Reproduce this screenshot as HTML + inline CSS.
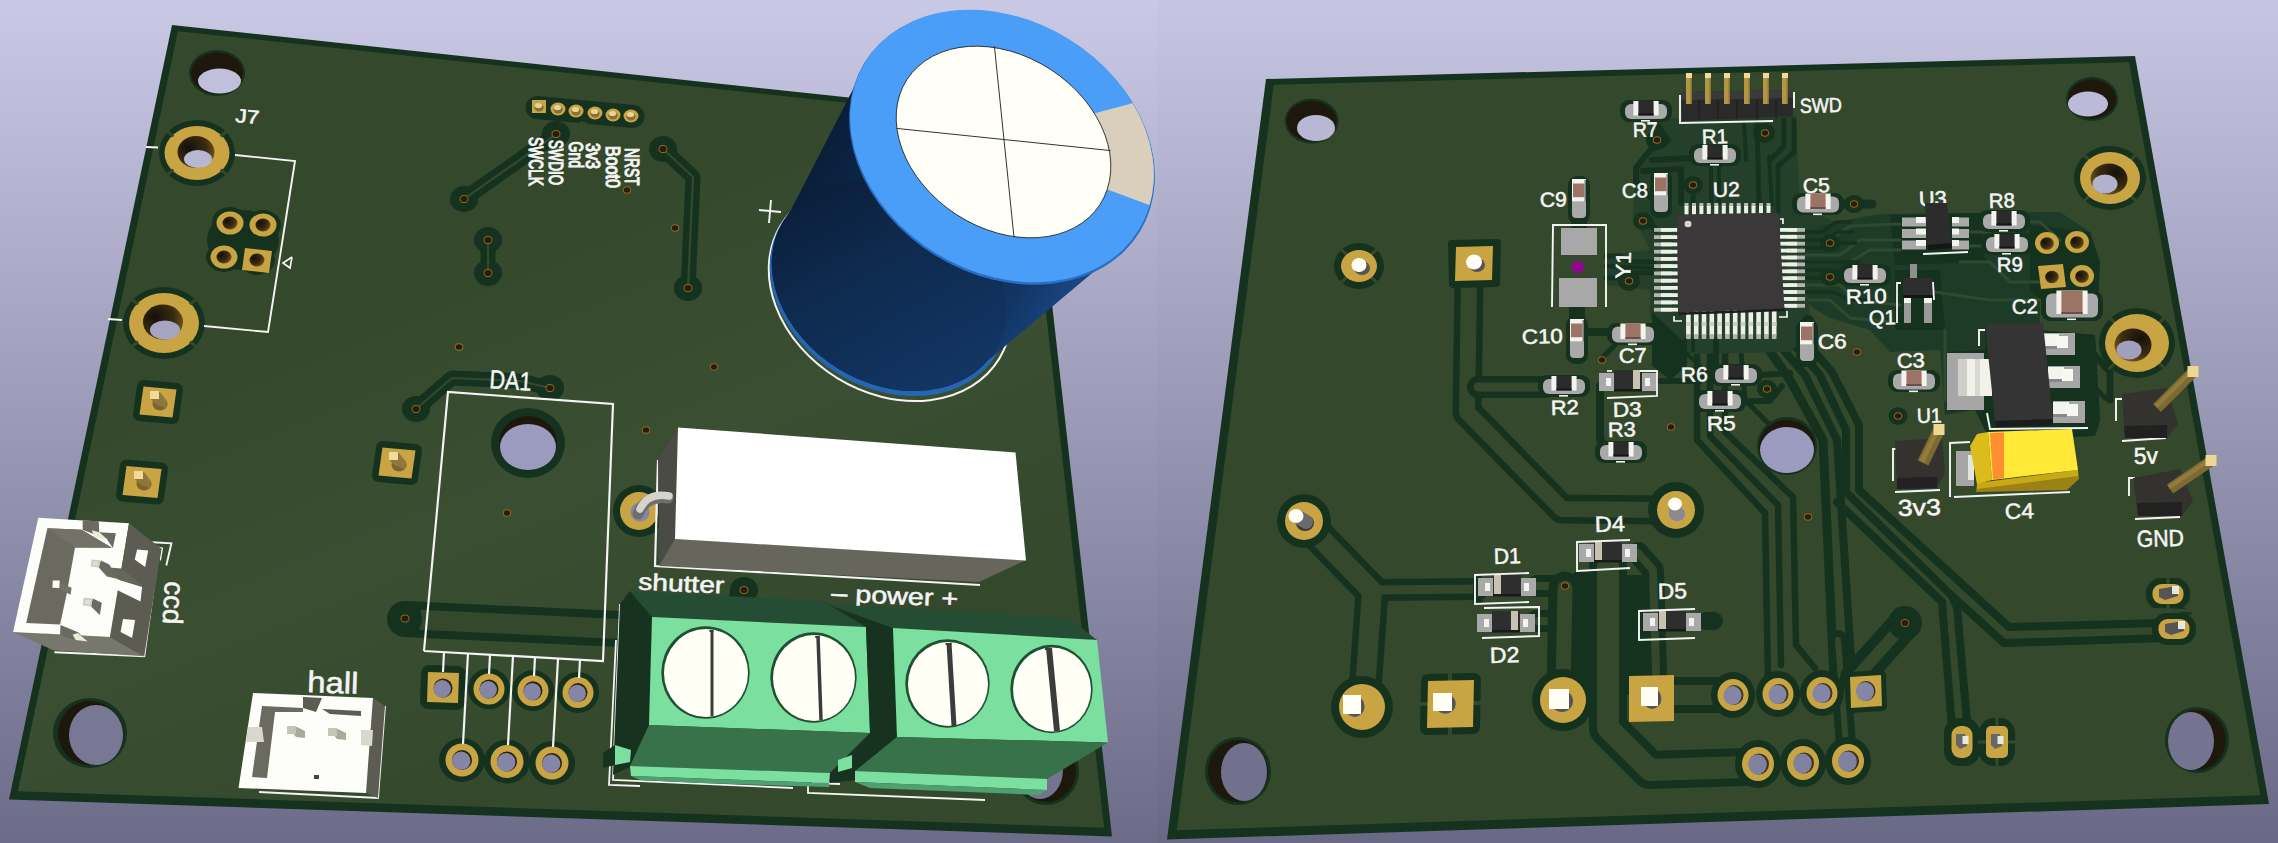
<!DOCTYPE html>
<html><head><meta charset="utf-8"><title>PCB 3D view</title>
<style>html,body{margin:0;padding:0;background:#9999b5;}svg{display:block;font-family:"Liberation Sans",sans-serif;}text{stroke:#f4f4f4;stroke-width:0.55px;}</style>
</head><body>
<svg width="2278" height="843" viewBox="0 0 2278 843">

<defs>
<linearGradient id="bgl" x1="0" y1="0" x2="0" y2="1"><stop offset="0" stop-color="#c9c9e5"/><stop offset="1" stop-color="#6c6c89"/></linearGradient>
<linearGradient id="bgr" x1="0" y1="0" x2="0" y2="1"><stop offset="0" stop-color="#c6c6e3"/><stop offset="1" stop-color="#696986"/></linearGradient>
<clipPath id="clipP1"><rect x="0" y="0" width="1157" height="843"/></clipPath>
<clipPath id="clipP2"><rect x="1157" y="0" width="1121" height="843"/></clipPath>
<radialGradient id="holeg" cx="0.3" cy="0.35" r="0.8"><stop offset="0" stop-color="#15100a"/><stop offset="0.6" stop-color="#3a2c10"/><stop offset="1" stop-color="#7a5c1e"/></radialGradient>
<linearGradient id="capbody" gradientUnits="userSpaceOnUse" x1="790" y1="170" x2="1070" y2="330"><stop offset="0" stop-color="#0a1c36"/><stop offset="0.35" stop-color="#0e2a4e"/><stop offset="0.8" stop-color="#123563"/><stop offset="1" stop-color="#1b4c8c"/></linearGradient>
<linearGradient id="lightL" gradientUnits="userSpaceOnUse" x1="300" y1="300" x2="500" y2="800"><stop offset="0" stop-color="#ffffff" stop-opacity="0"/><stop offset="0.5" stop-color="#ffffff" stop-opacity="0.03"/><stop offset="1" stop-color="#ffffff" stop-opacity="0"/></linearGradient>
<radialGradient id="holeg2" cx="0.7" cy="0.3" r="0.8"><stop offset="0" stop-color="#15100a"/><stop offset="0.6" stop-color="#3a2c10"/><stop offset="1" stop-color="#7a5c1e"/></radialGradient>
</defs>
<rect x="0" y="0" width="1157" height="843" fill="url(#bgl)"/>
<rect x="1157" y="0" width="1121" height="843" fill="url(#bgr)"/>
<clipPath id="clipL"><polygon points="172.0,25.0 1031.0,117.0 1112.0,836.5 9.0,799.5"/></clipPath>
<g clip-path="url(#clipP1)">
<polygon points="172.0,25.0 1031.0,117.0 1112.0,836.5 9.0,799.5" fill="#15321f" />
<polygon points="177.9,31.2 1024.5,121.8 1104.0,827.7 17.9,791.3" fill="#34492c" />
<g clip-path="url(#clipL)">
<polygon points="177.9,31.2 1024.5,121.8 1104.0,827.7 17.9,791.3" fill="url(#lightL)"/>
<polyline points="464.0,199.0 548.0,140.0 556.0,134.0" fill="none" stroke="#15321f" stroke-width="15" stroke-linecap="round" stroke-linejoin="round" />
<ellipse cx="464.0" cy="199.0" rx="14.0" ry="13.0" fill="#15321f" />
<ellipse cx="556.0" cy="134.0" rx="14.0" ry="13.0" fill="#15321f" />
<polyline points="464.0,199.0 548.0,140.0 556.0,134.0" fill="none" stroke="#34492c" stroke-width="2.2" stroke-linecap="round" stroke-linejoin="round" />
<polyline points="488.0,240.0 488.0,273.0" fill="none" stroke="#15321f" stroke-width="15" stroke-linecap="round" stroke-linejoin="round" />
<ellipse cx="488.0" cy="240.0" rx="14.0" ry="13.0" fill="#15321f" />
<ellipse cx="488.0" cy="273.0" rx="14.0" ry="13.0" fill="#15321f" />
<polyline points="488.0,240.0 488.0,273.0" fill="none" stroke="#34492c" stroke-width="2.2" stroke-linecap="round" stroke-linejoin="round" />
<polyline points="663.0,149.0 693.0,177.0 688.0,288.0" fill="none" stroke="#15321f" stroke-width="15" stroke-linecap="round" stroke-linejoin="round" />
<ellipse cx="663.0" cy="149.0" rx="14.0" ry="13.0" fill="#15321f" />
<ellipse cx="688.0" cy="288.0" rx="14.0" ry="13.0" fill="#15321f" />
<polyline points="663.0,149.0 693.0,177.0 688.0,288.0" fill="none" stroke="#34492c" stroke-width="2.2" stroke-linecap="round" stroke-linejoin="round" />
<polyline points="416.0,409.0 452.0,378.0 520.0,381.0 550.0,388.0" fill="none" stroke="#15321f" stroke-width="15" stroke-linecap="round" stroke-linejoin="round" />
<ellipse cx="416.0" cy="409.0" rx="14.0" ry="13.0" fill="#15321f" />
<ellipse cx="550.0" cy="388.0" rx="14.0" ry="13.0" fill="#15321f" />
<polyline points="416.0,409.0 452.0,378.0 520.0,381.0 550.0,388.0" fill="none" stroke="#34492c" stroke-width="2.2" stroke-linecap="round" stroke-linejoin="round" />
<polyline points="405.0,619.0 640.0,630.0" fill="none" stroke="#15321f" stroke-width="36" stroke-linecap="round" stroke-linejoin="round" />
<polyline points="420.0,619.7 640.0,630.0" fill="none" stroke="#34492c" stroke-width="20" stroke-linecap="butt" stroke-linejoin="round" />
<ellipse cx="405.0" cy="618.5" rx="17.0" ry="17.0" fill="#15321f" />
<polyline points="744.0,590.0 735.0,596.0" fill="none" stroke="#15321f" stroke-width="12" stroke-linecap="round" stroke-linejoin="round" />
<ellipse cx="744.0" cy="590.0" rx="14.0" ry="13.0" fill="#15321f" />
</g>
<ellipse cx="464.0" cy="199.0" rx="4.5" ry="4.1" fill="#8a6a22" />
<ellipse cx="464.0" cy="199.0" rx="3.5" ry="3.1" fill="#2a1c08" />
<ellipse cx="556.0" cy="134.0" rx="4.5" ry="4.1" fill="#8a6a22" />
<ellipse cx="556.0" cy="134.0" rx="3.5" ry="3.1" fill="#2a1c08" />
<ellipse cx="488.0" cy="240.0" rx="4.5" ry="4.1" fill="#8a6a22" />
<ellipse cx="488.0" cy="240.0" rx="3.5" ry="3.1" fill="#2a1c08" />
<ellipse cx="488.0" cy="273.0" rx="4.5" ry="4.1" fill="#8a6a22" />
<ellipse cx="488.0" cy="273.0" rx="3.5" ry="3.1" fill="#2a1c08" />
<ellipse cx="663.0" cy="149.0" rx="4.5" ry="4.1" fill="#8a6a22" />
<ellipse cx="663.0" cy="149.0" rx="3.5" ry="3.1" fill="#2a1c08" />
<ellipse cx="688.0" cy="288.0" rx="4.5" ry="4.1" fill="#8a6a22" />
<ellipse cx="688.0" cy="288.0" rx="3.5" ry="3.1" fill="#2a1c08" />
<ellipse cx="416.0" cy="409.0" rx="4.5" ry="4.1" fill="#8a6a22" />
<ellipse cx="416.0" cy="409.0" rx="3.5" ry="3.1" fill="#2a1c08" />
<ellipse cx="550.0" cy="388.0" rx="4.5" ry="4.1" fill="#8a6a22" />
<ellipse cx="550.0" cy="388.0" rx="3.5" ry="3.1" fill="#2a1c08" />
<ellipse cx="405.0" cy="618.5" rx="4.5" ry="4.1" fill="#8a6a22" />
<ellipse cx="405.0" cy="618.5" rx="3.5" ry="3.1" fill="#2a1c08" />
<ellipse cx="744.0" cy="590.0" rx="4.5" ry="4.1" fill="#8a6a22" />
<ellipse cx="744.0" cy="590.0" rx="3.5" ry="3.1" fill="#2a1c08" />
<ellipse cx="627.0" cy="190.0" rx="4.2" ry="3.8" fill="#8a6a22" />
<ellipse cx="627.0" cy="190.0" rx="3.2" ry="2.8" fill="#2a1c08" />
<ellipse cx="675.0" cy="228.0" rx="4.2" ry="3.8" fill="#8a6a22" />
<ellipse cx="675.0" cy="228.0" rx="3.2" ry="2.8" fill="#2a1c08" />
<ellipse cx="459.0" cy="347.0" rx="4.2" ry="3.8" fill="#8a6a22" />
<ellipse cx="459.0" cy="347.0" rx="3.2" ry="2.8" fill="#2a1c08" />
<ellipse cx="714.0" cy="367.0" rx="4.2" ry="3.8" fill="#8a6a22" />
<ellipse cx="714.0" cy="367.0" rx="3.2" ry="2.8" fill="#2a1c08" />
<ellipse cx="646.0" cy="430.0" rx="4.2" ry="3.8" fill="#8a6a22" />
<ellipse cx="646.0" cy="430.0" rx="3.2" ry="2.8" fill="#2a1c08" />
<ellipse cx="507.0" cy="513.0" rx="4.2" ry="3.8" fill="#8a6a22" />
<ellipse cx="507.0" cy="513.0" rx="3.2" ry="2.8" fill="#2a1c08" />
<ellipse cx="459.0" cy="347.0" rx="4.2" ry="3.8" fill="#8a6a22" />
<ellipse cx="459.0" cy="347.0" rx="3.2" ry="2.8" fill="#2a1c08" />
<ellipse cx="217.0" cy="73.0" rx="28.0" ry="23.0" fill="#15321f" />
<ellipse cx="217.0" cy="73.0" rx="26.0" ry="20.5" fill="#1e180c" />
<ellipse cx="219.5" cy="81.0" rx="21.5" ry="12.5" fill="#c0c0dc" />
<ellipse cx="90.0" cy="733.0" rx="37.0" ry="35.0" fill="#15321f" />
<ellipse cx="90.0" cy="733.0" rx="32.0" ry="32.0" fill="#1e180c" />
<ellipse cx="96.0" cy="735.0" rx="27.0" ry="30.0" fill="#787895" />
<ellipse cx="528.0" cy="443.0" rx="37.0" ry="35.0" fill="#15321f" />
<ellipse cx="528.0" cy="443.0" rx="29.0" ry="27.0" fill="#1e180c" />
<ellipse cx="528.0" cy="447.0" rx="28.0" ry="23.0" fill="#9b9bc0" />
<ellipse cx="1046.0" cy="771.0" rx="33.0" ry="34.0" fill="#15321f" />
<ellipse cx="1046.0" cy="771.0" rx="30.0" ry="31.0" fill="#1e180c" />
<ellipse cx="1040.0" cy="770.0" rx="23.0" ry="29.0" fill="#747490" />
<ellipse cx="197.0" cy="153.0" rx="38.0" ry="33.0" fill="#15321f" />
<ellipse cx="197.0" cy="153.0" rx="32.5" ry="27.0" fill="#c9a443" />
<ellipse cx="196.0" cy="152.0" rx="18.5" ry="16.0" fill="url(#holeg)" />
<ellipse cx="198.0" cy="159.0" rx="14.0" ry="9.0" fill="#b7b7d4" />
<ellipse cx="164.0" cy="323.0" rx="41.0" ry="36.0" fill="#15321f" />
<ellipse cx="164.0" cy="323.0" rx="35.0" ry="30.0" fill="#c9a443" />
<ellipse cx="163.0" cy="322.0" rx="20.0" ry="17.5" fill="url(#holeg)" />
<ellipse cx="165.0" cy="330.0" rx="15.0" ry="9.5" fill="#a5a5c1" />
<polyline points="220.7,169.7 227.6,175.5" fill="none" stroke="#34492c" stroke-width="3" stroke-linecap="butt" stroke-linejoin="round" />
<polyline points="173.3,169.7 166.4,175.5" fill="none" stroke="#34492c" stroke-width="3" stroke-linecap="butt" stroke-linejoin="round" />
<polyline points="173.3,136.3 166.4,130.5" fill="none" stroke="#34492c" stroke-width="3" stroke-linecap="butt" stroke-linejoin="round" />
<polyline points="220.7,136.3 227.6,130.5" fill="none" stroke="#34492c" stroke-width="3" stroke-linecap="butt" stroke-linejoin="round" />
<polyline points="190.0,341.6 196.9,347.4" fill="none" stroke="#34492c" stroke-width="3" stroke-linecap="butt" stroke-linejoin="round" />
<polyline points="138.0,341.6 131.1,347.4" fill="none" stroke="#34492c" stroke-width="3" stroke-linecap="butt" stroke-linejoin="round" />
<polyline points="138.0,304.4 131.1,298.6" fill="none" stroke="#34492c" stroke-width="3" stroke-linecap="butt" stroke-linejoin="round" />
<polyline points="190.0,304.4 196.9,298.6" fill="none" stroke="#34492c" stroke-width="3" stroke-linecap="butt" stroke-linejoin="round" />
<polyline points="146.0,147.0 158.0,147.5" fill="none" stroke="#f4f4f4" stroke-width="1.92" stroke-linecap="butt" stroke-linejoin="miter" />
<polyline points="235.0,155.0 295.0,161.0 268.0,332.0 204.0,326.0" fill="none" stroke="#f4f4f4" stroke-width="1.92" stroke-linecap="butt" stroke-linejoin="miter" />
<polyline points="108.0,319.0 122.0,320.0" fill="none" stroke="#f4f4f4" stroke-width="1.92" stroke-linecap="butt" stroke-linejoin="miter" />
<text x="0" y="0" font-size="19" fill="#f4f4f4" font-weight="normal" text-anchor="start" textLength="24" lengthAdjust="spacingAndGlyphs" transform="translate(235 122) rotate(5) skewX(0)">J7</text>
<ellipse cx="243.0" cy="240.0" rx="36.0" ry="30.0" fill="#15321f" />
<ellipse cx="230.0" cy="222.0" rx="18.0" ry="15.0" fill="#15321f" />
<ellipse cx="263.0" cy="225.0" rx="18.0" ry="15.0" fill="#15321f" />
<ellipse cx="224.0" cy="257.0" rx="18.0" ry="15.0" fill="#15321f" />
<ellipse cx="257.0" cy="260.0" rx="18.0" ry="15.0" fill="#15321f" />
<ellipse cx="230.0" cy="223.0" rx="13.5" ry="11.5" fill="#c9a443" />
<ellipse cx="230.0" cy="223.0" rx="7.5" ry="6.5" fill="url(#holeg)" />
<ellipse cx="263.0" cy="225.0" rx="13.5" ry="11.5" fill="#c9a443" />
<ellipse cx="263.0" cy="225.0" rx="7.5" ry="6.5" fill="url(#holeg)" />
<ellipse cx="224.0" cy="257.0" rx="13.5" ry="11.5" fill="#c9a443" />
<ellipse cx="224.0" cy="257.0" rx="7.5" ry="6.5" fill="url(#holeg)" />
<polygon points="245.0,248.0 272.0,251.0 269.0,273.0 242.0,270.0" fill="#c9a443" />
<ellipse cx="257.0" cy="260.0" rx="7.5" ry="6.5" fill="url(#holeg)" />
<polyline points="292.0,257.0 283.0,263.0 290.0,268.0 292.0,257.0" fill="none" stroke="#f4f4f4" stroke-width="1.68" stroke-linecap="butt" stroke-linejoin="miter" />
<polygon points="143.5,386.5 176.5,389.5 172.5,417.5 139.5,414.5" fill="#15321f" stroke="#15321f" stroke-width="13" stroke-linejoin="round"/>
<polygon points="143.5,386.5 176.5,389.5 172.5,417.5 139.5,414.5" fill="#c9a443" />
<ellipse cx="160.0" cy="404.0" rx="7.5" ry="6.5" fill="#7a6432" />
<polygon points="151.0,392.0 160.0,392.0 167.0,401.0 166.0,408.0 157.0,405.0 151.0,400.0" fill="#8f7840" />
<rect x="150.0" y="391.0" width="9.0" height="8.0" fill="#f0dc9a" />
<polygon points="126.5,466.0 161.5,469.0 157.5,498.0 122.5,495.0" fill="#15321f" stroke="#15321f" stroke-width="13" stroke-linejoin="round"/>
<polygon points="126.5,466.0 161.5,469.0 157.5,498.0 122.5,495.0" fill="#c9a443" />
<ellipse cx="144.0" cy="484.0" rx="7.5" ry="6.5" fill="#7a6432" />
<polygon points="135.0,472.0 144.0,472.0 151.0,481.0 150.0,488.0 141.0,485.0 135.0,480.0" fill="#8f7840" />
<rect x="134.0" y="471.0" width="9.0" height="8.0" fill="#f0dc9a" />
<polygon points="382.5,447.5 415.5,450.5 411.5,478.5 378.5,475.5" fill="#15321f" stroke="#15321f" stroke-width="13" stroke-linejoin="round"/>
<polygon points="382.5,447.5 415.5,450.5 411.5,478.5 378.5,475.5" fill="#c9a443" />
<ellipse cx="399.0" cy="465.0" rx="7.5" ry="6.5" fill="#7a6432" />
<polygon points="390.0,453.0 399.0,453.0 406.0,462.0 405.0,469.0 396.0,466.0 390.0,461.0" fill="#8f7840" />
<rect x="389.0" y="452.0" width="9.0" height="8.0" fill="#f0dc9a" />
<polyline points="537.0,107.5 633.0,116.5" fill="none" stroke="#15321f" stroke-width="23" stroke-linecap="round" stroke-linejoin="round" />
<polyline points="581.0,123.0 586.0,124.0" fill="none" stroke="#34492c" stroke-width="3" stroke-linecap="round" stroke-linejoin="round" />
<rect x="532.0" y="100.0" width="14.0" height="13.0" fill="#c9a443" />
<ellipse cx="539.0" cy="107.5" rx="4.6" ry="4.0" fill="#8a6f3a" />
<ellipse cx="538.5" cy="105.5" rx="3.6" ry="2.6" fill="#e9d392" />
<ellipse cx="558.0" cy="109.0" rx="7.5" ry="6.5" fill="#c9a443" />
<ellipse cx="558.0" cy="109.5" rx="4.6" ry="4.0" fill="#8a6f3a" />
<ellipse cx="557.5" cy="107.5" rx="3.6" ry="2.6" fill="#e9d392" />
<ellipse cx="576.0" cy="111.0" rx="7.5" ry="6.5" fill="#c9a443" />
<ellipse cx="576.0" cy="111.5" rx="4.6" ry="4.0" fill="#8a6f3a" />
<ellipse cx="575.5" cy="109.5" rx="3.6" ry="2.6" fill="#e9d392" />
<ellipse cx="595.0" cy="113.0" rx="7.5" ry="6.5" fill="#c9a443" />
<ellipse cx="595.0" cy="113.5" rx="4.6" ry="4.0" fill="#8a6f3a" />
<ellipse cx="594.5" cy="111.5" rx="3.6" ry="2.6" fill="#e9d392" />
<ellipse cx="613.0" cy="115.0" rx="7.5" ry="6.5" fill="#c9a443" />
<ellipse cx="613.0" cy="115.5" rx="4.6" ry="4.0" fill="#8a6f3a" />
<ellipse cx="612.5" cy="113.5" rx="3.6" ry="2.6" fill="#e9d392" />
<ellipse cx="631.0" cy="116.0" rx="7.5" ry="6.5" fill="#c9a443" />
<ellipse cx="631.0" cy="116.5" rx="4.6" ry="4.0" fill="#8a6f3a" />
<ellipse cx="630.5" cy="114.5" rx="3.6" ry="2.6" fill="#e9d392" />
<text x="0" y="0" font-size="19.5" fill="#f4f4f4" font-weight="normal" text-anchor="start" textLength="49" lengthAdjust="spacingAndGlyphs" transform="translate(529 137) rotate(90) skewX(0)" style="stroke-width:1.2px">SWCLK</text>
<text x="0" y="0" font-size="19.5" fill="#f4f4f4" font-weight="normal" text-anchor="start" textLength="45" lengthAdjust="spacingAndGlyphs" transform="translate(549 140) rotate(90) skewX(0)" style="stroke-width:1.2px">SWDIO</text>
<text x="0" y="0" font-size="19.5" fill="#f4f4f4" font-weight="normal" text-anchor="start" textLength="26.5" lengthAdjust="spacingAndGlyphs" transform="translate(569 141.5) rotate(90) skewX(0)" style="stroke-width:1.2px">Gnd</text>
<text x="0" y="0" font-size="19.5" fill="#f4f4f4" font-weight="normal" text-anchor="start" textLength="26" lengthAdjust="spacingAndGlyphs" transform="translate(586 143) rotate(90) skewX(0)" style="stroke-width:1.2px">3v3</text>
<text x="0" y="0" font-size="19.5" fill="#f4f4f4" font-weight="normal" text-anchor="start" textLength="42" lengthAdjust="spacingAndGlyphs" transform="translate(606 146) rotate(90) skewX(0)" style="stroke-width:1.2px">Boot0</text>
<text x="0" y="0" font-size="19.5" fill="#f4f4f4" font-weight="normal" text-anchor="start" textLength="37.5" lengthAdjust="spacingAndGlyphs" transform="translate(625 148) rotate(90) skewX(0)" style="stroke-width:1.2px">NRST</text>
<polyline points="424.0,651.0 448.0,392.0 613.0,404.0 603.0,661.0 424.0,651.0" fill="none" stroke="#f4f4f4" stroke-width="2.16" stroke-linecap="butt" stroke-linejoin="miter" />
<text x="0" y="0" font-size="26" fill="#f4f4f4" font-weight="normal" text-anchor="start" textLength="42" lengthAdjust="spacingAndGlyphs" transform="translate(489 388) rotate(4) skewX(0)">DA1</text>
<polygon points="429.0,673.0 458.0,674.0 457.0,702.0 428.0,701.0" fill="#15321f" stroke="#15321f" stroke-width="16" stroke-linejoin="round"/>
<ellipse cx="489.0" cy="688.8" rx="21.0" ry="20.5" fill="#15321f" />
<ellipse cx="533.0" cy="690.6" rx="21.0" ry="20.5" fill="#15321f" />
<ellipse cx="578.0" cy="692.4" rx="21.0" ry="20.5" fill="#15321f" />
<ellipse cx="462.0" cy="760.0" rx="23.0" ry="22.0" fill="#15321f" />
<ellipse cx="507.0" cy="761.5" rx="23.0" ry="22.0" fill="#15321f" />
<ellipse cx="552.0" cy="763.0" rx="23.0" ry="22.0" fill="#15321f" />
<polygon points="428.0,672.0 459.0,673.0 458.0,703.0 427.0,702.0" fill="#c9a443" />
<ellipse cx="443.0" cy="688.0" rx="9.5" ry="9.5" fill="#2a2312" />
<ellipse cx="442.2" cy="688.8" rx="8.7" ry="8.7" fill="#8585a8" />
<ellipse cx="489.0" cy="689.0" rx="15.5" ry="15.5" fill="#c9a443" />
<ellipse cx="489.0" cy="689.0" rx="9.5" ry="9.5" fill="#2a2312" />
<ellipse cx="488.2" cy="689.8" rx="8.7" ry="8.7" fill="#8585a8" />
<ellipse cx="533.0" cy="690.8" rx="15.5" ry="15.5" fill="#c9a443" />
<ellipse cx="533.0" cy="690.8" rx="9.5" ry="9.5" fill="#2a2312" />
<ellipse cx="532.2" cy="691.6" rx="8.7" ry="8.7" fill="#8585a8" />
<ellipse cx="578.0" cy="692.6" rx="15.5" ry="15.5" fill="#c9a443" />
<ellipse cx="578.0" cy="692.6" rx="9.5" ry="9.5" fill="#2a2312" />
<ellipse cx="577.2" cy="693.4" rx="8.7" ry="8.7" fill="#8585a8" />
<ellipse cx="462.0" cy="760.0" rx="16.5" ry="16.5" fill="#c9a443" />
<ellipse cx="462.0" cy="760.0" rx="10.0" ry="10.0" fill="#2a2312" />
<ellipse cx="461.2" cy="760.8" rx="9.2" ry="9.2" fill="#8585a8" />
<ellipse cx="507.0" cy="761.5" rx="16.5" ry="16.5" fill="#c9a443" />
<ellipse cx="507.0" cy="761.5" rx="10.0" ry="10.0" fill="#2a2312" />
<ellipse cx="506.2" cy="762.3" rx="9.2" ry="9.2" fill="#8585a8" />
<ellipse cx="552.0" cy="763.0" rx="16.5" ry="16.5" fill="#c9a443" />
<ellipse cx="552.0" cy="763.0" rx="10.0" ry="10.0" fill="#2a2312" />
<ellipse cx="551.2" cy="763.8" rx="9.2" ry="9.2" fill="#8585a8" />
<polyline points="444.0,652.0 443.0,672.0" fill="none" stroke="#f4f4f4" stroke-width="2.16" stroke-linecap="butt" stroke-linejoin="miter" />
<polyline points="490.0,655.0 489.0,674.0" fill="none" stroke="#f4f4f4" stroke-width="2.16" stroke-linecap="butt" stroke-linejoin="miter" />
<polyline points="535.0,657.0 534.0,676.0" fill="none" stroke="#f4f4f4" stroke-width="2.16" stroke-linecap="butt" stroke-linejoin="miter" />
<polyline points="580.0,660.0 579.0,678.0" fill="none" stroke="#f4f4f4" stroke-width="2.16" stroke-linecap="butt" stroke-linejoin="miter" />
<polyline points="468.0,653.0 463.0,744.0" fill="none" stroke="#f4f4f4" stroke-width="2.16" stroke-linecap="butt" stroke-linejoin="miter" />
<polyline points="513.0,656.0 508.0,745.0" fill="none" stroke="#f4f4f4" stroke-width="2.16" stroke-linecap="butt" stroke-linejoin="miter" />
<polyline points="558.0,659.0 553.0,747.0" fill="none" stroke="#f4f4f4" stroke-width="2.16" stroke-linecap="butt" stroke-linejoin="miter" />
<ellipse cx="639.0" cy="511.0" rx="26.0" ry="26.0" fill="#15321f" />
<ellipse cx="639.0" cy="511.0" rx="19.0" ry="19.0" fill="#c9a443" />
<ellipse cx="640.0" cy="512.0" rx="9.5" ry="9.5" fill="#8585a8" />
<polyline points="152.2,542.3 171.4,543.3 166.3,565.5" fill="none" stroke="#f4f4f4" stroke-width="1.92" stroke-linecap="butt" stroke-linejoin="miter" />
<polyline points="159.3,547.4 144.2,656.2 54.4,652.2" fill="none" stroke="#f4f4f4" stroke-width="2.04" stroke-linecap="butt" stroke-linejoin="miter" />
<polyline points="156.2,546.8 162.3,548.4 160.3,560.5" fill="none" stroke="#f4f4f4" stroke-width="1.44" stroke-linecap="butt" stroke-linejoin="miter" />
<polygon points="13.1,632.1 109.9,637.1 144.2,656.2 53.4,650.2" fill="#77776d" />
<polygon points="129.0,523.2 161.3,548.4 144.2,656.2 109.9,637.1" fill="#5c5c53" />
<polygon points="38.3,517.7 129.0,523.2 109.9,637.1 13.1,632.1" fill="#fdfdf9" />
<polygon points="47.4,528.2 81.7,529.8 111.9,547.8 75.0,547.4 66.5,594.8 60.1,624.6 26.2,623.0" fill="#6a6a61" />
<polygon points="47.4,528.2 81.7,529.8 111.9,547.8 75.0,547.4" fill="#727268" />
<polygon points="82.7,520.2 98.8,521.2 99.2,532.3 115.9,533.3 112.9,548.0 106.9,539.3 82.7,529.8" fill="#6a6a61" />
<polygon points="91.7,530.2 99.2,532.3 107.9,539.7 94.8,537.3" fill="#ecebd8" />
<polygon points="60.5,625.0 77.6,632.1 87.7,641.5 70.6,639.1 60.1,634.7" fill="#6a6a61" />
<polygon points="72.6,634.7 77.6,633.1 87.7,641.5 75.6,640.1" fill="#ecebd8" />
<polygon points="137.1,549.4 148.2,550.4 145.2,566.9 134.7,559.5" fill="#fdfdf9" />
<polygon points="123.0,619.0 135.1,620.0 132.1,638.1 120.6,632.1" fill="#fdfdf9" />
<polygon points="121.6,568.5 129.0,523.2 139.1,532.3 129.0,560.5 143.5,586.3 121.0,569.6" fill="#5c5c53" />
<polygon points="117.9,579.6 142.1,587.1 140.5,601.4 116.5,589.7" fill="#fdfdf9" />
<polygon points="108.9,567.5 121.6,568.5 143.5,586.3 117.9,579.6" fill="#66665c" />
<polygon points="100.8,560.5 109.3,564.5 117.9,579.0 106.9,576.6 98.8,567.5" fill="#6a6a61" />
<polygon points="91.7,559.5 100.8,560.5 98.8,567.5 90.7,566.5" fill="#c9c9bd" />
<polygon points="93.1,561.1 98.8,561.7 97.6,565.9 92.3,565.1" fill="#deded4" />
<polygon points="92.7,598.4 101.8,602.8 99.8,614.9 91.1,606.5" fill="#6a6a61" />
<polygon points="83.7,597.8 92.7,598.4 91.1,606.5 82.7,605.2" fill="#c9c9bd" />
<polygon points="85.1,599.4 91.1,600.0 89.9,604.8 84.3,604.0" fill="#deded4" />
<polygon points="59.5,583.1 71.6,587.7 70.6,594.8 58.5,588.7" fill="#727268" />
<polygon points="52.8,580.6 59.7,580.6 59.3,588.1 52.4,587.7" fill="#fdfdf9" />
<text x="0" y="0" font-size="28" fill="#f4f4f4" font-weight="normal" text-anchor="start" textLength="43" lengthAdjust="spacingAndGlyphs" transform="translate(165 581) rotate(93) skewX(0)">ccd</text>
<polyline points="385.0,706.0 378.0,798.0 259.0,792.0" fill="none" stroke="#f4f4f4" stroke-width="1.92" stroke-linecap="butt" stroke-linejoin="miter" />
<polygon points="373.0,698.0 385.0,706.0 378.0,798.0 366.0,793.0" fill="#5c5c53" />
<polygon points="253.0,693.0 373.0,698.0 366.0,793.0 238.5,788.0" fill="#fdfdf9" />
<polygon points="262.0,706.0 303.0,708.0 303.0,712.0 275.0,712.0 267.0,778.0 252.0,777.0" fill="#6a6a61" />
<polygon points="303.0,697.0 322.0,698.0 316.0,712.0 303.0,708.0" fill="#5c5c53" />
<polygon points="322.0,709.0 361.0,711.0 361.0,716.0 330.0,714.0" fill="#5c5c53" />
<polygon points="248.0,727.0 262.0,727.0 264.0,742.0 246.0,742.0" fill="#d8d8cc" />
<polygon points="361.0,730.0 373.0,730.0 372.0,746.0 361.0,745.0" fill="#d8d8cc" />
<polygon points="288.0,727.0 297.0,727.0 305.0,731.0 305.0,738.0 296.0,737.0" fill="#a9a99c" />
<rect x="287.0" y="726.0" width="9.0" height="8.0" fill="#c4c4b8" />
<polygon points="329.0,729.0 338.0,729.0 346.0,733.0 346.0,740.0 337.0,739.0" fill="#a9a99c" />
<rect x="328.0" y="728.0" width="9.0" height="8.0" fill="#c4c4b8" />
<rect x="314.0" y="775.0" width="5.0" height="4.0" fill="#444" />
<text x="0" y="0" font-size="30" fill="#f4f4f4" font-weight="normal" text-anchor="start" textLength="51" lengthAdjust="spacingAndGlyphs" transform="translate(307 692) rotate(2) skewX(0)">hall</text>
<polyline points="658.0,460.0 655.0,566.0 980.0,585.0" fill="none" stroke="#f4f4f4" stroke-width="2.16" stroke-linecap="butt" stroke-linejoin="miter" />
<polygon points="678.0,428.0 658.0,460.0 659.0,566.0 675.0,539.0" fill="#4b4b45" />
<polygon points="675.0,539.0 1026.0,560.0 979.0,582.0 659.0,566.0" fill="#66665d" />
<polygon points="678.0,427.5 1015.5,452.5 1026.0,560.5 675.0,539.0" fill="#ffffff" />
<path d="M668 498 Q 646 495 638 514" fill="none" stroke="#6e6e6a" stroke-width="11" stroke-linecap="round"/>
<path d="M669 496 Q 648 492 640 509" fill="none" stroke="#d4d4cc" stroke-width="7.5" stroke-linecap="round"/>
<text x="0" y="0" font-size="23.5" fill="#f4f4f4" font-weight="normal" text-anchor="start" textLength="86" lengthAdjust="spacingAndGlyphs" transform="translate(638 589.5) rotate(2.7) skewX(0)">shutter</text>
<text x="0" y="0" font-size="24" fill="#f4f4f4" font-weight="normal" text-anchor="start" textLength="127" lengthAdjust="spacingAndGlyphs" transform="translate(831 601) rotate(2.7) skewX(0)">– power +</text>
<polyline points="620.0,604.0 613.0,780.0 793.0,788.0" fill="none" stroke="#f4f4f4" stroke-width="1.8" stroke-linecap="butt" stroke-linejoin="miter" />
<polyline points="616.0,640.0 609.0,785.0 640.0,786.0" fill="none" stroke="#f4f4f4" stroke-width="1.8" stroke-linecap="butt" stroke-linejoin="miter" />
<polyline points="808.0,785.0 808.0,793.0 985.0,800.0" fill="none" stroke="#f4f4f4" stroke-width="1.8" stroke-linecap="butt" stroke-linejoin="miter" />
<polyline points="812.0,783.0 840.0,784.0" fill="none" stroke="#f4f4f4" stroke-width="1.8" stroke-linecap="butt" stroke-linejoin="miter" />
<polygon points="630.0,591.0 652.0,617.0 649.0,725.0 630.0,767.0 613.0,775.0 620.0,604.0" fill="#17331f" />
<polygon points="603.0,753.0 615.0,745.0 615.0,765.0 603.0,768.0" fill="#17331f" />
<polygon points="615.0,745.0 631.0,750.0 630.0,762.0 615.0,765.0" fill="#7adf9f" />
<polygon points="630.0,591.0 823.0,601.0 866.0,627.0 652.0,617.0" fill="#254d33" />
<polygon points="652.0,617.0 866.0,627.0 870.0,733.0 649.0,725.0" fill="#7adf9f" />
<polygon points="649.0,725.0 870.0,733.0 830.0,773.0 630.0,766.0" fill="#38724a" />
<polygon points="630.0,766.0 830.0,773.0 829.0,783.0 631.0,776.0" fill="#7adf9f" />
<polygon points="631.0,776.0 829.0,783.0 829.0,787.0 700.0,783.0 640.0,780.0" fill="#4fa070" />
<polygon points="823.0,601.0 827.0,604.0 893.0,628.0 897.0,737.0 855.0,780.0 830.0,783.0 830.0,773.0 870.0,733.0 866.0,627.0" fill="#17331f" />
<polygon points="838.0,760.0 852.0,755.0 852.0,768.0 838.0,772.0" fill="#7adf9f" />
<polygon points="827.0,604.0 1069.0,618.0 1097.0,640.0 893.0,628.0" fill="#254d33" />
<polygon points="893.0,628.0 1097.0,640.0 1108.0,742.5 897.0,737.0" fill="#7adf9f" />
<polygon points="897.0,737.0 1108.0,742.5 1047.0,779.0 855.0,771.0" fill="#38724a" />
<polygon points="855.0,771.0 1047.0,779.0 1047.0,790.0 855.0,782.0" fill="#7adf9f" />
<polygon points="855.0,782.0 1047.0,790.0 1040.0,795.0 870.0,788.0" fill="#4fa070" />
<ellipse cx="705.5" cy="672.5" rx="44.2" ry="46.2" fill="#1f5032" />
<ellipse cx="706.0" cy="673.0" rx="42.0" ry="44.0" fill="#fffff6" />
<polyline points="712.0,630.0 712.0,716.0" fill="none" stroke="#3c3c3c" stroke-width="3" stroke-linecap="butt" stroke-linejoin="round" />
<polyline points="709.5,631.0 713.5,631.0" fill="none" stroke="#3c3c3c" stroke-width="2" stroke-linecap="butt" stroke-linejoin="round" />
<ellipse cx="813.5" cy="677.5" rx="43.2" ry="45.2" fill="#1f5032" />
<ellipse cx="814.0" cy="678.0" rx="41.0" ry="43.0" fill="#fffff6" />
<polyline points="818.0,636.0 821.0,720.0" fill="none" stroke="#3c3c3c" stroke-width="3.5" stroke-linecap="butt" stroke-linejoin="round" />
<polyline points="815.2,637.0 819.8,637.0" fill="none" stroke="#3c3c3c" stroke-width="2" stroke-linecap="butt" stroke-linejoin="round" />
<ellipse cx="947.5" cy="683.5" rx="42.2" ry="44.2" fill="#1f5032" />
<ellipse cx="948.0" cy="684.0" rx="40.0" ry="42.0" fill="#fffff6" />
<polyline points="949.0,643.0 954.0,726.0" fill="none" stroke="#3c3c3c" stroke-width="5" stroke-linecap="butt" stroke-linejoin="round" />
<polyline points="945.5,644.0 951.5,644.0" fill="none" stroke="#3c3c3c" stroke-width="2" stroke-linecap="butt" stroke-linejoin="round" />
<ellipse cx="1051.5" cy="689.0" rx="41.2" ry="44.2" fill="#1f5032" />
<ellipse cx="1052.0" cy="689.5" rx="39.0" ry="42.0" fill="#fffff6" />
<polyline points="1049.0,648.0 1057.0,731.0" fill="none" stroke="#3c3c3c" stroke-width="6" stroke-linecap="butt" stroke-linejoin="round" />
<polyline points="1045.0,649.0 1052.0,649.0" fill="none" stroke="#3c3c3c" stroke-width="2" stroke-linecap="butt" stroke-linejoin="round" />
<ellipse cx="890.0" cy="292.0" rx="128.0" ry="101.0" fill="none" transform="rotate(31.5 890 292)" stroke="#f4f4f4" stroke-width="2"/>
<polyline points="759.0,210.0 781.0,212.0" fill="none" stroke="#f4f4f4" stroke-width="1.92" stroke-linecap="butt" stroke-linejoin="miter" />
<polyline points="771.0,200.0 769.0,223.0" fill="none" stroke="#f4f4f4" stroke-width="1.92" stroke-linecap="butt" stroke-linejoin="miter" />
<ellipse cx="889.0" cy="289.0" rx="126.0" ry="99.0" fill="#2466b4" transform="rotate(31.5 889 289)" />
<ellipse cx="889.0" cy="286.0" rx="124.0" ry="97.0" fill="#0f2d54" transform="rotate(31.5 889 286)" />
<polygon points="872.0,52.4 1132.0,239.6 989.6,359.2 788.4,214.8" fill="url(#capbody)" />
<ellipse cx="889.0" cy="286.0" rx="124.0" ry="97.0" fill="url(#capbody)" transform="rotate(31.5 889 286)" />
<ellipse cx="1002.0" cy="147.5" rx="161.5" ry="127.0" fill="#2a6fc4" transform="rotate(31.5 1002 147.5)" />
<ellipse cx="1002.0" cy="146.0" rx="160.5" ry="126.0" fill="#4a9ef8" transform="rotate(31.5 1002 146)" />
<clipPath id="capring"><ellipse cx="1002" cy="146" rx="160.5" ry="126" transform="rotate(31.5 1002 146)"/></clipPath>
<g clip-path="url(#capring)">
<polygon points="1094.0,113.5 1137.0,102.0 1170.0,125.0 1175.0,178.0 1152.0,206.0 1102.0,187.5 1106.0,160.0 1104.0,135.0" fill="#d9cfbc" />
</g>
<ellipse cx="1003.5" cy="142.0" rx="115.0" ry="86.5" fill="#fffff8" transform="rotate(33 1003.5 142)" stroke="#222" stroke-width="0.8"/>
<polyline points="896.5,128.4 1110.6,150.6" fill="none" stroke="#333" stroke-width="1" stroke-linecap="butt" stroke-linejoin="round" />
<polyline points="994.4,46.0 1014.0,237.3" fill="none" stroke="#333" stroke-width="1" stroke-linecap="butt" stroke-linejoin="round" />
</g>
<clipPath id="clipR"><polygon points="1266.0,79.0 2135.0,56.0 2269.0,804.0 1167.0,839.5"/></clipPath>
<g clip-path="url(#clipP2)">
<polygon points="1266.0,79.0 2135.0,56.0 2269.0,804.0 1167.0,839.5" fill="#15321f" />
<polygon points="1273.8,84.8 2129.0,62.2 2260.3,795.3 1176.8,830.2" fill="#34492c" />
<g clip-path="url(#clipR)">
<polygon points="1800.0,232.0 1835.0,222.0 1880.0,214.0 2060.0,212.0 2090.0,232.0 2100.0,262.0 2098.0,300.0 2040.0,300.0 2040.0,330.0 2095.0,335.0 2100.0,420.0 2095.0,436.0 1990.0,440.0 1975.0,410.0 1945.0,415.0 1940.0,350.0 1890.0,352.0 1870.0,330.0 1830.0,318.0 1800.0,300.0" fill="#1d3b27" />
<polygon points="1890.0,215.0 1980.0,213.0 1985.0,262.0 1895.0,265.0" fill="#15321f" />
<polygon points="1985.0,325.0 2095.0,335.0 2100.0,420.0 2095.0,436.0 1990.0,440.0 1975.0,410.0 1950.0,412.0 1945.0,352.0 1985.0,350.0" fill="#15321f" />
<polygon points="2030.0,225.0 2090.0,232.0 2100.0,262.0 2098.0,300.0 2040.0,300.0 2030.0,290.0" fill="#15321f" />
<polygon points="1895.0,270.0 1940.0,270.0 1945.0,330.0 1895.0,330.0" fill="#15321f" />
<polyline points="1806.0,240.0 1830.0,240.0 1850.0,226.0 1900.0,224.0" fill="none" stroke="#2f4a2f" stroke-width="3" stroke-linecap="round" stroke-linejoin="round" />
<polyline points="1806.0,255.0 1840.0,255.0 1860.0,240.0 1900.0,240.0" fill="none" stroke="#2f4a2f" stroke-width="3" stroke-linecap="round" stroke-linejoin="round" />
<polyline points="1806.0,262.0 1850.0,262.0 1870.0,250.0 1900.0,250.0" fill="none" stroke="#2f4a2f" stroke-width="3" stroke-linecap="round" stroke-linejoin="round" />
<polyline points="1806.0,285.0 1840.0,285.0 1855.0,300.0 1900.0,305.0" fill="none" stroke="#2f4a2f" stroke-width="3" stroke-linecap="round" stroke-linejoin="round" />
<polyline points="1806.0,300.0 1830.0,300.0 1850.0,318.0 1890.0,322.0" fill="none" stroke="#2f4a2f" stroke-width="3" stroke-linecap="round" stroke-linejoin="round" />
<polyline points="1960.0,262.0 1990.0,262.0 2010.0,282.0 2040.0,282.0" fill="none" stroke="#2f4a2f" stroke-width="3" stroke-linecap="round" stroke-linejoin="round" />
<polyline points="1935.0,292.0 1990.0,300.0 2040.0,300.0" fill="none" stroke="#2f4a2f" stroke-width="3" stroke-linecap="round" stroke-linejoin="round" />
<polyline points="1945.0,330.0 1945.0,400.0" fill="none" stroke="#2f4a2f" stroke-width="3" stroke-linecap="round" stroke-linejoin="round" />
<polyline points="1970.0,232.0 1990.0,232.0" fill="none" stroke="#2f4a2f" stroke-width="3" stroke-linecap="round" stroke-linejoin="round" />
<polyline points="1970.0,246.0 1990.0,246.0" fill="none" stroke="#2f4a2f" stroke-width="3" stroke-linecap="round" stroke-linejoin="round" />
<polyline points="2025.0,222.0 2040.0,222.0 2060.0,240.0" fill="none" stroke="#2f4a2f" stroke-width="3" stroke-linecap="round" stroke-linejoin="round" />
<polyline points="1469.0,280.0 1467.0,412.0 1562.0,509.0 1660.0,510.0" fill="none" stroke="#15321f" stroke-width="29" stroke-linecap="round" stroke-linejoin="round" />
<polyline points="1469.0,280.0 1467.0,412.0 1562.0,509.0 1660.0,510.0" fill="none" stroke="#34492c" stroke-width="16" stroke-linecap="round" stroke-linejoin="round" />
<polyline points="1478.0,387.0 1545.0,387.0" fill="none" stroke="#15321f" stroke-width="22" stroke-linecap="round" stroke-linejoin="round" />
<polyline points="1478.0,387.0 1545.0,387.0" fill="none" stroke="#34492c" stroke-width="9" stroke-linecap="round" stroke-linejoin="round" />
<polyline points="1304.0,521.0 1372.0,591.0 1365.0,690.0" fill="none" stroke="#15321f" stroke-width="33" stroke-linecap="round" stroke-linejoin="round" />
<polyline points="1372.0,590.0 1478.0,589.0" fill="none" stroke="#15321f" stroke-width="22" stroke-linecap="round" stroke-linejoin="round" />
<polyline points="1304.0,521.0 1372.0,591.0 1365.0,690.0" fill="none" stroke="#34492c" stroke-width="20" stroke-linecap="round" stroke-linejoin="round" />
<polyline points="1372.0,590.0 1478.0,589.0" fill="none" stroke="#34492c" stroke-width="9" stroke-linecap="round" stroke-linejoin="round" />
<polyline points="1478.0,580.0 1478.0,600.0" fill="none" stroke="#15321f" stroke-width="10" stroke-linecap="round" stroke-linejoin="round" />
<polyline points="1537.0,586.0 1562.0,586.0" fill="none" stroke="#15321f" stroke-width="22" stroke-linecap="round" stroke-linejoin="round" />
<polyline points="1537.0,586.0 1562.0,586.0" fill="none" stroke="#34492c" stroke-width="8" stroke-linecap="round" stroke-linejoin="round" />
<polyline points="1537.0,621.0 1560.0,621.0" fill="none" stroke="#15321f" stroke-width="22" stroke-linecap="round" stroke-linejoin="round" />
<polyline points="1537.0,621.0 1560.0,621.0" fill="none" stroke="#34492c" stroke-width="8" stroke-linecap="round" stroke-linejoin="round" />
<polyline points="1565.0,588.0 1563.0,690.0" fill="none" stroke="#15321f" stroke-width="33" stroke-linecap="round" stroke-linejoin="round" />
<polyline points="1565.0,588.0 1563.0,690.0" fill="none" stroke="#34492c" stroke-width="15" stroke-linecap="round" stroke-linejoin="round" />
<rect x="1617.0" y="575.0" width="30.0" height="120.0" fill="#15321f" />
<rect x="1574.0" y="572.0" width="26.0" height="120.0" fill="#15321f" />
<polyline points="1608.0,566.0 1608.0,728.0 1650.0,770.0 1745.0,767.0" fill="none" stroke="#15321f" stroke-width="38" stroke-linecap="round" stroke-linejoin="round" />
<polyline points="1608.0,566.0 1608.0,728.0 1650.0,770.0 1745.0,767.0" fill="none" stroke="#34492c" stroke-width="22" stroke-linecap="round" stroke-linejoin="round" />
<polyline points="1638.0,553.0 1653.0,570.0 1656.0,672.0" fill="none" stroke="#15321f" stroke-width="22" stroke-linecap="round" stroke-linejoin="round" />
<polyline points="1638.0,553.0 1653.0,570.0 1656.0,672.0" fill="none" stroke="#34492c" stroke-width="8" stroke-linecap="round" stroke-linejoin="round" />
<polyline points="1706.0,621.0 1714.0,621.0" fill="none" stroke="#15321f" stroke-width="18" stroke-linecap="round" stroke-linejoin="round" />
<polyline points="1675.0,695.0 1720.0,695.0" fill="none" stroke="#15321f" stroke-width="36" stroke-linecap="round" stroke-linejoin="round" />
<polyline points="1675.0,695.0 1720.0,695.0" fill="none" stroke="#34492c" stroke-width="20" stroke-linecap="round" stroke-linejoin="round" />
<polyline points="1697.0,340.0 1697.0,440.0 1765.0,513.0 1768.0,682.0" fill="none" stroke="#15321f" stroke-width="6.5" stroke-linecap="round" stroke-linejoin="round" />
<polyline points="1710.0,340.0 1710.0,436.0 1778.0,505.0 1781.0,665.0" fill="none" stroke="#15321f" stroke-width="6.5" stroke-linecap="round" stroke-linejoin="round" />
<polyline points="1725.0,340.0 1725.0,432.0 1793.0,497.0 1796.0,645.0 1815.0,668.0" fill="none" stroke="#15321f" stroke-width="6.5" stroke-linecap="round" stroke-linejoin="round" />
<polyline points="1740.0,340.0 1745.0,400.0 1800.0,455.0" fill="none" stroke="#15321f" stroke-width="5" stroke-linecap="round" stroke-linejoin="round" />
<polyline points="1762.0,340.0 1790.0,380.0 1823.0,440.0 1834.0,680.0" fill="none" stroke="#15321f" stroke-width="9" stroke-linecap="round" stroke-linejoin="round" />
<polyline points="1838.0,640.0 1846.0,745.0" fill="none" stroke="#15321f" stroke-width="20" stroke-linecap="round" stroke-linejoin="round" />
<polyline points="1838.0,640.0 1846.0,745.0" fill="none" stroke="#34492c" stroke-width="6" stroke-linecap="round" stroke-linejoin="round" />
<polyline points="1775.0,340.0 1805.0,375.0 1837.0,440.0 1853.0,690.0" fill="none" stroke="#15321f" stroke-width="8" stroke-linecap="round" stroke-linejoin="round" />
<polyline points="1837.0,502.0 1942.0,602.0 1952.0,729.0" fill="none" stroke="#15321f" stroke-width="8" stroke-linecap="round" stroke-linejoin="round" />
<polyline points="1788.0,338.0 1820.0,375.0 1846.0,430.0 1846.0,492.0 1952.0,596.0 2004.0,643.0 2165.0,638.0" fill="none" stroke="#15321f" stroke-width="8" stroke-linecap="round" stroke-linejoin="round" />
<polyline points="1952.0,596.0 1957.0,607.0 1967.0,722.0" fill="none" stroke="#15321f" stroke-width="8" stroke-linecap="round" stroke-linejoin="round" />
<polyline points="1800.0,335.0 1832.0,372.0 1859.0,425.0 1859.0,490.0 2009.0,627.0 2160.0,623.0" fill="none" stroke="#15321f" stroke-width="8" stroke-linecap="round" stroke-linejoin="round" />
<polyline points="1905.0,623.0 1856.0,678.0" fill="none" stroke="#15321f" stroke-width="32" stroke-linecap="round" stroke-linejoin="round" />
<polyline points="1905.0,623.0 1856.0,678.0" fill="none" stroke="#34492c" stroke-width="12" stroke-linecap="round" stroke-linejoin="round" />
<polygon points="1640.0,128.0 1668.0,118.0 1796.0,116.0 1800.0,205.0 1835.0,222.0 1800.0,232.0 1812.0,330.0 1790.0,352.0 1690.0,354.0 1650.0,318.0 1650.0,290.0 1606.0,285.0 1606.0,255.0 1650.0,250.0 1633.0,215.0 1635.0,165.0 1650.0,150.0" fill="#24402a" />
<polyline points="1655.0,122.0 1668.0,140.0 1650.0,150.0 1636.0,168.0 1636.0,182.0 1650.0,197.0" fill="none" stroke="#15321f" stroke-width="6" stroke-linecap="round" stroke-linejoin="round" />
<polyline points="1652.0,160.0 1692.0,158.0" fill="none" stroke="#15321f" stroke-width="6" stroke-linecap="round" stroke-linejoin="round" />
<polyline points="1643.0,171.0 1681.0,169.0 1681.0,203.0" fill="none" stroke="#15321f" stroke-width="6" stroke-linecap="round" stroke-linejoin="round" />
<polyline points="1711.0,163.0 1711.0,203.0" fill="none" stroke="#15321f" stroke-width="4" stroke-linecap="round" stroke-linejoin="round" />
<polyline points="1719.0,163.0 1719.0,203.0" fill="none" stroke="#15321f" stroke-width="4" stroke-linecap="round" stroke-linejoin="round" />
<polyline points="1757.0,122.0 1759.0,203.0" fill="none" stroke="#15321f" stroke-width="5" stroke-linecap="round" stroke-linejoin="round" />
<polyline points="1769.0,157.0 1772.0,205.0" fill="none" stroke="#15321f" stroke-width="4" stroke-linecap="round" stroke-linejoin="round" />
<polyline points="1784.0,120.0 1784.0,146.0 1770.0,160.0" fill="none" stroke="#15321f" stroke-width="5" stroke-linecap="round" stroke-linejoin="round" />
<polyline points="1794.0,120.0 1794.0,152.0 1778.0,166.0 1778.0,212.0" fill="none" stroke="#15321f" stroke-width="5" stroke-linecap="round" stroke-linejoin="round" />
<polyline points="1744.0,122.0 1746.0,160.0" fill="none" stroke="#15321f" stroke-width="4" stroke-linecap="round" stroke-linejoin="round" />
<polyline points="1693.0,185.0 1693.0,203.0" fill="none" stroke="#15321f" stroke-width="5" stroke-linecap="round" stroke-linejoin="round" />
<ellipse cx="1764.0" cy="133.0" rx="11.0" ry="10.0" fill="#15321f" />
<ellipse cx="1657.0" cy="140.0" rx="11.0" ry="10.0" fill="#15321f" />
<ellipse cx="1693.0" cy="185.0" rx="10.0" ry="9.0" fill="#15321f" />
<ellipse cx="1643.0" cy="221.0" rx="10.0" ry="9.0" fill="#15321f" />
<polyline points="1606.0,256.0 1620.0,256.0 1630.0,262.0 1654.0,262.0" fill="none" stroke="#15321f" stroke-width="5" stroke-linecap="round" stroke-linejoin="round" />
<polyline points="1606.0,266.0 1654.0,268.0" fill="none" stroke="#15321f" stroke-width="4" stroke-linecap="round" stroke-linejoin="round" />
<polyline points="1606.0,278.0 1620.0,278.0 1630.0,273.0 1654.0,273.0" fill="none" stroke="#15321f" stroke-width="5" stroke-linecap="round" stroke-linejoin="round" />
<ellipse cx="1629.0" cy="281.0" rx="11.0" ry="10.0" fill="#15321f" />
<polyline points="1650.0,222.0 1656.0,230.0" fill="none" stroke="#15321f" stroke-width="6" stroke-linecap="round" stroke-linejoin="round" />
<polyline points="1579.0,214.0 1579.0,226.0" fill="none" stroke="#15321f" stroke-width="16" stroke-linecap="round" stroke-linejoin="round" />
<polyline points="1577.0,308.0 1577.0,322.0" fill="none" stroke="#15321f" stroke-width="16" stroke-linecap="round" stroke-linejoin="round" />
<polyline points="1586.0,332.0 1612.0,332.0" fill="none" stroke="#15321f" stroke-width="8" stroke-linecap="round" stroke-linejoin="round" />
<polyline points="1600.0,360.0 1615.0,345.0" fill="none" stroke="#15321f" stroke-width="5" stroke-linecap="round" stroke-linejoin="round" />
<polyline points="1806.0,232.0 1822.0,232.0 1836.0,222.0 1850.0,222.0" fill="none" stroke="#15321f" stroke-width="3.5" stroke-linecap="round" stroke-linejoin="round" />
<polyline points="1806.0,240.0 1824.0,240.0 1838.0,232.0 1853.0,232.0" fill="none" stroke="#15321f" stroke-width="3.5" stroke-linecap="round" stroke-linejoin="round" />
<polyline points="1806.0,248.0 1826.0,248.0 1840.0,243.0 1856.0,243.0" fill="none" stroke="#15321f" stroke-width="3.5" stroke-linecap="round" stroke-linejoin="round" />
<polyline points="1806.0,262.0 1828.0,262.0 1842.0,262.0 1859.0,262.0" fill="none" stroke="#15321f" stroke-width="3.5" stroke-linecap="round" stroke-linejoin="round" />
<polyline points="1806.0,270.0 1830.0,270.0 1844.0,272.0 1862.0,272.0" fill="none" stroke="#15321f" stroke-width="3.5" stroke-linecap="round" stroke-linejoin="round" />
<polyline points="1806.0,278.0 1832.0,278.0 1846.0,284.0 1865.0,284.0" fill="none" stroke="#15321f" stroke-width="3.5" stroke-linecap="round" stroke-linejoin="round" />
<polyline points="1806.0,292.0 1834.0,292.0 1848.0,300.0 1868.0,300.0" fill="none" stroke="#15321f" stroke-width="3.5" stroke-linecap="round" stroke-linejoin="round" />
<polyline points="1838.0,204.0 1872.0,204.0" fill="none" stroke="#15321f" stroke-width="9" stroke-linecap="round" stroke-linejoin="round" />
<ellipse cx="1854.0" cy="204.0" rx="10.0" ry="9.0" fill="#15321f" />
<ellipse cx="1830.0" cy="243.0" rx="10.0" ry="9.0" fill="#15321f" />
<ellipse cx="1830.0" cy="277.0" rx="10.0" ry="9.0" fill="#15321f" />
<polyline points="1685.0,340.0 1685.0,352.0 1700.0,366.0" fill="none" stroke="#15321f" stroke-width="4" stroke-linecap="round" stroke-linejoin="round" />
<polyline points="1693.0,340.0 1693.0,350.0" fill="none" stroke="#15321f" stroke-width="4" stroke-linecap="round" stroke-linejoin="round" />
<polyline points="1600.0,386.0 1600.0,440.0 1610.0,451.0" fill="none" stroke="#15321f" stroke-width="8" stroke-linecap="round" stroke-linejoin="round" />
<polyline points="1660.0,381.0 1700.0,381.0 1716.0,365.0 1716.0,340.0" fill="none" stroke="#15321f" stroke-width="6" stroke-linecap="round" stroke-linejoin="round" />
<polyline points="1745.0,401.0 1770.0,401.0 1782.0,386.0" fill="none" stroke="#15321f" stroke-width="6" stroke-linecap="round" stroke-linejoin="round" />
<polyline points="1760.0,375.0 1790.0,373.0" fill="none" stroke="#15321f" stroke-width="6" stroke-linecap="round" stroke-linejoin="round" />
<polyline points="1808.0,322.0 1808.0,336.0" fill="none" stroke="#15321f" stroke-width="14" stroke-linecap="round" stroke-linejoin="round" />
<ellipse cx="1767.0" cy="389.0" rx="10.0" ry="9.0" fill="#15321f" />
<polygon points="1652.0,312.0 1687.0,345.0 1687.0,366.0 1670.0,380.0 1652.0,366.0" fill="#15321f" />
<polyline points="2175.0,609.0 2190.0,612.0" fill="none" stroke="#15321f" stroke-width="5" stroke-linecap="round" stroke-linejoin="round" />
<polyline points="2090.0,350.0 2110.0,372.0 2110.0,400.0" fill="none" stroke="#15321f" stroke-width="7" stroke-linecap="round" stroke-linejoin="round" />
<polyline points="2085.0,377.0 2105.0,398.0" fill="none" stroke="#15321f" stroke-width="5" stroke-linecap="round" stroke-linejoin="round" />
</g>
<ellipse cx="1657.0" cy="140.0" rx="9.5" ry="8.7" fill="#15321f" />
<ellipse cx="1657.0" cy="140.0" rx="4.2" ry="3.8" fill="#8a6a22" />
<ellipse cx="1657.0" cy="140.0" rx="3.2" ry="2.8" fill="#2a1c08" />
<ellipse cx="1765.0" cy="133.0" rx="9.5" ry="8.7" fill="#15321f" />
<ellipse cx="1765.0" cy="133.0" rx="4.2" ry="3.8" fill="#8a6a22" />
<ellipse cx="1765.0" cy="133.0" rx="3.2" ry="2.8" fill="#2a1c08" />
<ellipse cx="1629.0" cy="281.0" rx="9.5" ry="8.7" fill="#15321f" />
<ellipse cx="1629.0" cy="281.0" rx="4.2" ry="3.8" fill="#8a6a22" />
<ellipse cx="1629.0" cy="281.0" rx="3.2" ry="2.8" fill="#2a1c08" />
<ellipse cx="1854.0" cy="204.0" rx="9.5" ry="8.7" fill="#15321f" />
<ellipse cx="1854.0" cy="204.0" rx="4.2" ry="3.8" fill="#8a6a22" />
<ellipse cx="1854.0" cy="204.0" rx="3.2" ry="2.8" fill="#2a1c08" />
<ellipse cx="1767.0" cy="389.0" rx="9.5" ry="8.7" fill="#15321f" />
<ellipse cx="1767.0" cy="389.0" rx="4.2" ry="3.8" fill="#8a6a22" />
<ellipse cx="1767.0" cy="389.0" rx="3.2" ry="2.8" fill="#2a1c08" />
<ellipse cx="1898.0" cy="416.0" rx="9.5" ry="8.7" fill="#15321f" />
<ellipse cx="1898.0" cy="416.0" rx="4.2" ry="3.8" fill="#8a6a22" />
<ellipse cx="1898.0" cy="416.0" rx="3.2" ry="2.8" fill="#2a1c08" />
<ellipse cx="1693.0" cy="185.0" rx="4.2" ry="3.8" fill="#8a6a22" />
<ellipse cx="1693.0" cy="185.0" rx="3.2" ry="2.8" fill="#2a1c08" />
<ellipse cx="1643.0" cy="221.0" rx="4.2" ry="3.8" fill="#8a6a22" />
<ellipse cx="1643.0" cy="221.0" rx="3.2" ry="2.8" fill="#2a1c08" />
<ellipse cx="1830.0" cy="243.0" rx="4.2" ry="3.8" fill="#8a6a22" />
<ellipse cx="1830.0" cy="243.0" rx="3.2" ry="2.8" fill="#2a1c08" />
<ellipse cx="1830.0" cy="277.0" rx="4.2" ry="3.8" fill="#8a6a22" />
<ellipse cx="1830.0" cy="277.0" rx="3.2" ry="2.8" fill="#2a1c08" />
<ellipse cx="1602.0" cy="360.0" rx="4.2" ry="3.8" fill="#8a6a22" />
<ellipse cx="1602.0" cy="360.0" rx="3.2" ry="2.8" fill="#2a1c08" />
<ellipse cx="1671.0" cy="427.0" rx="4.2" ry="3.8" fill="#8a6a22" />
<ellipse cx="1671.0" cy="427.0" rx="3.2" ry="2.8" fill="#2a1c08" />
<ellipse cx="1857.0" cy="352.0" rx="4.2" ry="3.8" fill="#8a6a22" />
<ellipse cx="1857.0" cy="352.0" rx="3.2" ry="2.8" fill="#2a1c08" />
<ellipse cx="1808.0" cy="517.0" rx="4.2" ry="3.8" fill="#8a6a22" />
<ellipse cx="1808.0" cy="517.0" rx="3.2" ry="2.8" fill="#2a1c08" />
<ellipse cx="1565.0" cy="586.0" rx="4.2" ry="3.8" fill="#8a6a22" />
<ellipse cx="1565.0" cy="586.0" rx="3.2" ry="2.8" fill="#2a1c08" />
<ellipse cx="1905.0" cy="623.0" rx="17.0" ry="17.0" fill="#15321f" />
<ellipse cx="1905.0" cy="623.0" rx="4.4" ry="4.0" fill="#8a6a22" />
<ellipse cx="1905.0" cy="623.0" rx="3.4" ry="3.0" fill="#2a1c08" />
<ellipse cx="1311.7" cy="121.0" rx="27.0" ry="22.5" fill="#15321f" />
<ellipse cx="1311.7" cy="121.0" rx="25.0" ry="20.0" fill="#1e180c" />
<ellipse cx="1316.0" cy="128.0" rx="19.0" ry="13.0" fill="#b8b8d5" />
<ellipse cx="2092.0" cy="99.0" rx="26.0" ry="22.0" fill="#15321f" />
<ellipse cx="2092.0" cy="99.0" rx="24.0" ry="19.5" fill="#1e180c" />
<ellipse cx="2088.0" cy="104.0" rx="20.0" ry="12.5" fill="#bbbbd8" />
<ellipse cx="1238.0" cy="771.0" rx="33.0" ry="34.0" fill="#15321f" />
<ellipse cx="1238.0" cy="771.0" rx="30.0" ry="31.0" fill="#1e180c" />
<ellipse cx="1244.0" cy="772.0" rx="23.0" ry="29.0" fill="#71718e" />
<ellipse cx="2197.0" cy="740.0" rx="32.0" ry="33.0" fill="#15321f" />
<ellipse cx="2197.0" cy="740.0" rx="29.0" ry="30.0" fill="#1e180c" />
<ellipse cx="2191.0" cy="741.0" rx="23.0" ry="29.0" fill="#747491" />
<ellipse cx="1787.0" cy="446.0" rx="30.0" ry="29.0" fill="#15321f" />
<ellipse cx="1787.0" cy="446.0" rx="28.0" ry="26.0" fill="#1e180c" />
<ellipse cx="1787.0" cy="450.0" rx="27.0" ry="23.0" fill="#9b9bc0" />
<ellipse cx="2110.0" cy="178.0" rx="36.0" ry="32.0" fill="#15321f" />
<polyline points="2129.8,195.0 2136.9,202.0" fill="none" stroke="#34492c" stroke-width="3" stroke-linecap="butt" stroke-linejoin="round" />
<polyline points="2090.2,195.0 2083.1,202.0" fill="none" stroke="#34492c" stroke-width="3" stroke-linecap="butt" stroke-linejoin="round" />
<polyline points="2090.2,161.0 2083.1,154.0" fill="none" stroke="#34492c" stroke-width="3" stroke-linecap="butt" stroke-linejoin="round" />
<polyline points="2129.8,161.0 2136.9,154.0" fill="none" stroke="#34492c" stroke-width="3" stroke-linecap="butt" stroke-linejoin="round" />
<ellipse cx="2110.0" cy="178.0" rx="30.0" ry="26.0" fill="#c9a443" />
<ellipse cx="2109.0" cy="179.0" rx="18.5" ry="15.5" fill="url(#holeg2)" />
<ellipse cx="2105.0" cy="184.0" rx="12.5" ry="9.5" fill="#b2b2cf" />
<ellipse cx="2137.0" cy="343.0" rx="38.0" ry="35.0" fill="#15321f" />
<polyline points="2158.2,362.1 2165.3,369.2" fill="none" stroke="#34492c" stroke-width="3" stroke-linecap="butt" stroke-linejoin="round" />
<polyline points="2115.8,362.1 2108.7,369.2" fill="none" stroke="#34492c" stroke-width="3" stroke-linecap="butt" stroke-linejoin="round" />
<polyline points="2115.8,323.9 2108.7,316.8" fill="none" stroke="#34492c" stroke-width="3" stroke-linecap="butt" stroke-linejoin="round" />
<polyline points="2158.2,323.9 2165.3,316.8" fill="none" stroke="#34492c" stroke-width="3" stroke-linecap="butt" stroke-linejoin="round" />
<ellipse cx="2137.0" cy="343.0" rx="32.0" ry="29.0" fill="#c9a443" />
<ellipse cx="2133.0" cy="345.0" rx="18.5" ry="16.5" fill="url(#holeg2)" />
<ellipse cx="2129.0" cy="350.0" rx="12.5" ry="9.5" fill="#a0a0bd" />
<ellipse cx="2047.0" cy="243.0" rx="12.0" ry="11.0" fill="#c9a443" />
<ellipse cx="2047.0" cy="243.5" rx="6.8" ry="6.3" fill="url(#holeg)" />
<ellipse cx="2077.0" cy="242.0" rx="12.0" ry="11.0" fill="#c9a443" />
<ellipse cx="2077.0" cy="242.5" rx="6.8" ry="6.3" fill="url(#holeg)" />
<ellipse cx="2082.0" cy="276.0" rx="12.0" ry="11.0" fill="#c9a443" />
<ellipse cx="2082.0" cy="276.5" rx="6.8" ry="6.3" fill="url(#holeg)" />
<polygon points="2038.0,266.0 2063.0,264.0 2066.0,287.0 2041.0,289.0" fill="#c9a443" />
<ellipse cx="2052.0" cy="277.0" rx="6.8" ry="6.3" fill="url(#holeg)" />
<ellipse cx="1359.0" cy="266.0" rx="25.0" ry="23.0" fill="#15321f" />
<polyline points="1369.6,275.9 1378.1,283.7" fill="none" stroke="#34492c" stroke-width="3" stroke-linecap="butt" stroke-linejoin="round" />
<polyline points="1348.4,275.9 1339.9,283.7" fill="none" stroke="#34492c" stroke-width="3" stroke-linecap="butt" stroke-linejoin="round" />
<polyline points="1348.4,256.1 1339.9,248.3" fill="none" stroke="#34492c" stroke-width="3" stroke-linecap="butt" stroke-linejoin="round" />
<polyline points="1369.6,256.1 1378.1,248.3" fill="none" stroke="#34492c" stroke-width="3" stroke-linecap="butt" stroke-linejoin="round" />
<ellipse cx="1359.0" cy="266.0" rx="18.0" ry="16.0" fill="#c9a443" />
<ellipse cx="1362.0" cy="268.0" rx="8.0" ry="7.0" fill="#555" />
<ellipse cx="1359.0" cy="265.0" rx="7.5" ry="7.0" fill="#fffff8" />
<polygon points="1452.0,244.0 1497.0,243.0 1496.0,283.0 1453.0,284.0" fill="#15321f" stroke="#15321f" stroke-width="8" stroke-linejoin="round"/>
<polygon points="1456.0,247.0 1493.0,246.0 1492.0,280.0 1455.0,281.0" fill="#c9a443" />
<ellipse cx="1477.0" cy="265.0" rx="8.0" ry="7.0" fill="#555" />
<ellipse cx="1474.0" cy="262.0" rx="8.0" ry="7.5" fill="#fffff8" />
<ellipse cx="1304.0" cy="521.0" rx="27.0" ry="27.0" fill="#15321f" />
<ellipse cx="1304.0" cy="521.0" rx="19.0" ry="19.0" fill="#c9a443" />
<ellipse cx="1305.0" cy="523.0" rx="9.0" ry="8.0" fill="#3a3a3a" />
<polyline points="1298.0,517.0 1306.0,522.0" fill="none" stroke="#6a6a6a" stroke-width="14" stroke-linecap="round" stroke-linejoin="round" />
<ellipse cx="1296.0" cy="516.0" rx="7.5" ry="7.0" fill="#fffff8" />
<ellipse cx="1676.0" cy="510.0" rx="28.0" ry="28.0" fill="#15321f" />
<ellipse cx="1676.0" cy="510.0" rx="19.0" ry="19.0" fill="#c9a443" />
<ellipse cx="1677.0" cy="514.0" rx="8.0" ry="7.0" fill="#8585a8" />
<polyline points="1675.0,506.0 1676.0,512.0" fill="none" stroke="#8a8a8a" stroke-width="13" stroke-linecap="round" stroke-linejoin="round" />
<ellipse cx="1675.0" cy="504.0" rx="7.0" ry="6.5" fill="#fffff8" />
<ellipse cx="1362.0" cy="707.0" rx="31.0" ry="31.0" fill="#15321f" />
<ellipse cx="1362.0" cy="707.0" rx="23.0" ry="23.0" fill="#c9a443" />
<ellipse cx="1354.7" cy="706.4" rx="9.9" ry="10.5" fill="#555" />
<rect x="1343.0" y="695.0" width="18.0" height="19.0" fill="#fffff6" />
<polygon points="1428.0,681.0 1474.0,680.0 1473.0,727.0 1427.0,728.0" fill="#15321f" stroke="#15321f" stroke-width="14" stroke-linejoin="round"/>
<polyline points="1450.0,668.0 1450.0,740.0" fill="none" stroke="#34492c" stroke-width="4" stroke-linecap="butt" stroke-linejoin="round" />
<polyline points="1414.0,704.0 1486.0,703.0" fill="none" stroke="#34492c" stroke-width="4" stroke-linecap="butt" stroke-linejoin="round" />
<polygon points="1428.0,681.0 1474.0,680.0 1473.0,727.0 1427.0,728.0" fill="#c9a443" />
<ellipse cx="1445.3" cy="703.8" rx="10.5" ry="9.9" fill="#555" />
<rect x="1433.0" y="693.0" width="19.0" height="18.0" fill="#fffff6" />
<ellipse cx="1563.0" cy="700.0" rx="31.0" ry="31.0" fill="#15321f" />
<ellipse cx="1563.0" cy="700.0" rx="23.0" ry="23.0" fill="#c9a443" />
<ellipse cx="1562.0" cy="701.0" rx="11.0" ry="11.0" fill="#555" />
<rect x="1549.0" y="689.0" width="20.0" height="20.0" fill="#fffff6" />
<polygon points="1629.0,676.0 1674.0,675.0 1674.0,721.0 1629.0,722.0" fill="#c9a443" />
<ellipse cx="1652.0" cy="698.4" rx="9.4" ry="10.5" fill="#555" />
<rect x="1641.0" y="687.0" width="17.0" height="19.0" fill="#fffff6" />
<ellipse cx="1733.0" cy="695.0" rx="22.0" ry="23.0" fill="#15321f" />
<ellipse cx="1778.0" cy="694.0" rx="22.0" ry="23.0" fill="#15321f" />
<ellipse cx="1822.0" cy="693.0" rx="22.0" ry="23.0" fill="#15321f" />
<ellipse cx="1758.0" cy="764.0" rx="23.0" ry="24.0" fill="#15321f" />
<ellipse cx="1803.0" cy="763.0" rx="23.0" ry="24.0" fill="#15321f" />
<ellipse cx="1848.0" cy="761.0" rx="23.0" ry="24.0" fill="#15321f" />
<polygon points="1850.0,677.0 1881.0,675.0 1882.0,706.0 1851.0,708.0" fill="#15321f" stroke="#15321f" stroke-width="10" stroke-linejoin="round"/>
<ellipse cx="1733.0" cy="695.0" rx="15.5" ry="16.0" fill="#c9a443" />
<ellipse cx="1734.0" cy="695.0" rx="9.5" ry="10.0" fill="#3a3520" />
<ellipse cx="1732.5" cy="695.5" rx="9.0" ry="9.5" fill="#8585a6" />
<ellipse cx="1778.0" cy="694.0" rx="15.5" ry="16.0" fill="#c9a443" />
<ellipse cx="1779.0" cy="694.0" rx="9.5" ry="10.0" fill="#3a3520" />
<ellipse cx="1777.5" cy="694.5" rx="9.0" ry="9.5" fill="#8585a6" />
<ellipse cx="1822.0" cy="693.0" rx="15.5" ry="16.0" fill="#c9a443" />
<ellipse cx="1823.0" cy="693.0" rx="9.5" ry="10.0" fill="#3a3520" />
<ellipse cx="1821.5" cy="693.5" rx="9.0" ry="9.5" fill="#8585a6" />
<polygon points="1850.0,677.0 1881.0,675.0 1882.0,706.0 1851.0,708.0" fill="#c9a443" />
<ellipse cx="1866.0" cy="691.0" rx="9.5" ry="10.0" fill="#3a3520" />
<ellipse cx="1865.0" cy="691.5" rx="9.0" ry="9.5" fill="#8585a6" />
<ellipse cx="1758.0" cy="764.0" rx="16.0" ry="17.0" fill="#c9a443" />
<ellipse cx="1759.0" cy="764.0" rx="10.0" ry="10.5" fill="#3a3520" />
<ellipse cx="1757.5" cy="764.5" rx="9.3" ry="10.0" fill="#80809f" />
<ellipse cx="1803.0" cy="763.0" rx="16.0" ry="17.0" fill="#c9a443" />
<ellipse cx="1804.0" cy="763.0" rx="10.0" ry="10.5" fill="#3a3520" />
<ellipse cx="1802.5" cy="763.5" rx="9.3" ry="10.0" fill="#80809f" />
<ellipse cx="1848.0" cy="761.0" rx="16.0" ry="17.0" fill="#c9a443" />
<ellipse cx="1849.0" cy="761.0" rx="10.0" ry="10.5" fill="#3a3520" />
<ellipse cx="1847.5" cy="761.5" rx="9.3" ry="10.0" fill="#80809f" />
<rect x="2146" y="578" width="44" height="32" rx="15" fill="#15321f"/>
<rect x="2152" y="613" width="44" height="32" rx="15" fill="#15321f"/>
<polyline points="2168.0,575.0 2168.0,612.0" fill="none" stroke="#34492c" stroke-width="3" stroke-linecap="butt" stroke-linejoin="round" />
<polyline points="2145.0,609.0 2195.0,611.0" fill="none" stroke="#34492c" stroke-width="3" stroke-linecap="butt" stroke-linejoin="round" />
<rect x="2152.5" y="584" width="31" height="20" rx="9" fill="#c9a443"/>
<polygon points="2159.0,589.0 2177.0,586.0 2178.0,596.0 2165.0,600.0 2159.0,597.0" fill="#555" />
<rect x="2172.0" y="586.0" width="7.0" height="8.0" fill="#e8e8e0" />
<rect x="2158.5" y="619" width="31" height="20" rx="9" fill="#c9a443"/>
<polygon points="2165.0,624.0 2183.0,621.0 2184.0,631.0 2171.0,635.0 2165.0,632.0" fill="#555" />
<rect x="2178.0" y="621.0" width="7.0" height="8.0" fill="#e8e8e0" />
<rect x="1944" y="718" width="36" height="48" rx="15" fill="#15321f"/>
<rect x="1979" y="718" width="36" height="48" rx="15" fill="#15321f"/>
<polyline points="1997.0,715.0 1997.0,770.0" fill="none" stroke="#34492c" stroke-width="3" stroke-linecap="butt" stroke-linejoin="round" />
<polyline points="1978.0,742.0 2020.0,742.0" fill="none" stroke="#34492c" stroke-width="3" stroke-linecap="butt" stroke-linejoin="round" />
<rect x="1951.5" y="726" width="21" height="32" rx="9" fill="#c9a443"/>
<polygon points="1956.0,734.0 1965.0,734.0 1967.0,746.0 1960.0,749.0 1956.0,745.0" fill="#666" />
<rect x="1962.5" y="736.0" width="6.0" height="8.0" fill="#e8e8e0" />
<rect x="1986" y="726" width="22" height="32" rx="5" fill="#c9a443"/>
<polygon points="1991.0,734.0 2000.0,734.0 2002.0,746.0 1995.0,749.0 1991.0,745.0" fill="#666" />
<rect x="1997.5" y="736.0" width="6.0" height="8.0" fill="#e8e8e0" />
<rect x="1620" y="100" width="52" height="22" rx="9" fill="#15321f"/>
<rect x="1689" y="144" width="52" height="22" rx="9" fill="#15321f"/>
<rect x="1839" y="264" width="52" height="22" rx="9" fill="#15321f"/>
<rect x="1978" y="210" width="52" height="22" rx="9" fill="#15321f"/>
<rect x="1981" y="233" width="52" height="22" rx="9" fill="#15321f"/>
<rect x="1538" y="375" width="52" height="22" rx="9" fill="#15321f"/>
<rect x="1595" y="441" width="52" height="22" rx="9" fill="#15321f"/>
<rect x="1710" y="364" width="52" height="22" rx="9" fill="#15321f"/>
<rect x="1694" y="390" width="52" height="22" rx="9" fill="#15321f"/>
<rect x="1792" y="193" width="52" height="22" rx="9" fill="#15321f"/>
<rect x="1607" y="323" width="52" height="22" rx="9" fill="#15321f"/>
<rect x="1888" y="370" width="52" height="22" rx="9" fill="#15321f"/>
<rect x="1650" y="170" width="22" height="48" rx="9" fill="#15321f"/>
<rect x="1568" y="176" width="22" height="48" rx="9" fill="#15321f"/>
<rect x="1566" y="316" width="22" height="48" rx="9" fill="#15321f"/>
<rect x="1796" y="319" width="22" height="48" rx="9" fill="#15321f"/>
<rect x="1625" y="104" width="42" height="15" rx="6" fill="#a9a9a9"/>
<rect x="1633.4" y="101.0" width="25.2" height="14.5" fill="#f4f4ee" />
<rect x="1638.4" y="101.0" width="15.2" height="14.5" fill="#2b2b2b" />
<rect x="1638.4" y="113.5" width="15.2" height="2.0" fill="#151515" />
<rect x="1641.0" y="120.0" width="9.0" height="1.6" fill="#f4f4f4" />
<rect x="1694" y="148" width="42" height="15" rx="6" fill="#a9a9a9"/>
<rect x="1702.4" y="145.0" width="25.2" height="14.5" fill="#f4f4ee" />
<rect x="1707.4" y="145.0" width="15.2" height="14.5" fill="#2b2b2b" />
<rect x="1707.4" y="157.5" width="15.2" height="2.0" fill="#151515" />
<rect x="1710.0" y="164.0" width="9.0" height="1.6" fill="#f4f4f4" />
<rect x="1844" y="268" width="42" height="15" rx="6" fill="#a9a9a9"/>
<rect x="1852.4" y="265.0" width="25.2" height="14.5" fill="#f4f4ee" />
<rect x="1857.4" y="265.0" width="15.2" height="14.5" fill="#2b2b2b" />
<rect x="1857.4" y="277.5" width="15.2" height="2.0" fill="#151515" />
<rect x="1860.0" y="284.0" width="9.0" height="1.6" fill="#f4f4f4" />
<rect x="1983" y="214" width="42" height="15" rx="6" fill="#a9a9a9"/>
<rect x="1991.4" y="211.0" width="25.2" height="14.5" fill="#f4f4ee" />
<rect x="1996.4" y="211.0" width="15.2" height="14.5" fill="#2b2b2b" />
<rect x="1996.4" y="223.5" width="15.2" height="2.0" fill="#151515" />
<rect x="1999.0" y="230.0" width="9.0" height="1.6" fill="#f4f4f4" />
<rect x="1986" y="237" width="42" height="15" rx="6" fill="#a9a9a9"/>
<rect x="1994.4" y="234.0" width="25.2" height="14.5" fill="#f4f4ee" />
<rect x="1999.4" y="234.0" width="15.2" height="14.5" fill="#2b2b2b" />
<rect x="1999.4" y="246.5" width="15.2" height="2.0" fill="#151515" />
<rect x="2002.0" y="253.0" width="9.0" height="1.6" fill="#f4f4f4" />
<rect x="1543" y="379" width="42" height="15" rx="6" fill="#a9a9a9"/>
<rect x="1551.4" y="376.0" width="25.2" height="14.5" fill="#f4f4ee" />
<rect x="1556.4" y="376.0" width="15.2" height="14.5" fill="#2b2b2b" />
<rect x="1556.4" y="388.5" width="15.2" height="2.0" fill="#151515" />
<rect x="1559.0" y="395.0" width="9.0" height="1.6" fill="#f4f4f4" />
<rect x="1600" y="445" width="42" height="15" rx="6" fill="#a9a9a9"/>
<rect x="1608.4" y="442.0" width="25.2" height="14.5" fill="#f4f4ee" />
<rect x="1613.4" y="442.0" width="15.2" height="14.5" fill="#2b2b2b" />
<rect x="1613.4" y="454.5" width="15.2" height="2.0" fill="#151515" />
<rect x="1616.0" y="461.0" width="9.0" height="1.6" fill="#f4f4f4" />
<rect x="1715" y="368" width="42" height="15" rx="6" fill="#a9a9a9"/>
<rect x="1723.4" y="365.0" width="25.2" height="14.5" fill="#f4f4ee" />
<rect x="1728.4" y="365.0" width="15.2" height="14.5" fill="#2b2b2b" />
<rect x="1728.4" y="377.5" width="15.2" height="2.0" fill="#151515" />
<rect x="1731.0" y="384.0" width="9.0" height="1.6" fill="#f4f4f4" />
<rect x="1699" y="394" width="42" height="15" rx="6" fill="#a9a9a9"/>
<rect x="1707.4" y="391.0" width="25.2" height="14.5" fill="#f4f4ee" />
<rect x="1712.4" y="391.0" width="15.2" height="14.5" fill="#2b2b2b" />
<rect x="1712.4" y="403.5" width="15.2" height="2.0" fill="#151515" />
<rect x="1715.0" y="410.0" width="9.0" height="1.6" fill="#f4f4f4" />
<rect x="1797" y="196.5" width="42" height="16" rx="6" fill="#a9a9a9"/>
<rect x="1805.4" y="193.5" width="25.2" height="15.5" fill="#f4f4ee" />
<rect x="1810.4" y="193.5" width="15.2" height="15.5" fill="#9c7466" />
<rect x="1810.4" y="207.0" width="15.2" height="2.0" fill="#6d4f45" />
<rect x="1813.0" y="213.5" width="9.0" height="1.6" fill="#f4f4f4" />
<rect x="1612" y="326.5" width="42" height="16" rx="6" fill="#a9a9a9"/>
<rect x="1620.4" y="323.5" width="25.2" height="15.5" fill="#f4f4ee" />
<rect x="1625.4" y="323.5" width="15.2" height="15.5" fill="#9c7466" />
<rect x="1625.4" y="337.0" width="15.2" height="2.0" fill="#6d4f45" />
<rect x="1628.0" y="343.5" width="9.0" height="1.6" fill="#f4f4f4" />
<rect x="1893" y="373.5" width="42" height="16" rx="6" fill="#a9a9a9"/>
<rect x="1901.4" y="370.5" width="25.2" height="15.5" fill="#f4f4ee" />
<rect x="1906.4" y="370.5" width="15.2" height="15.5" fill="#9c7466" />
<rect x="1906.4" y="384.0" width="15.2" height="2.0" fill="#6d4f45" />
<rect x="1909.0" y="390.5" width="9.0" height="1.6" fill="#f4f4f4" />
<rect x="2041" y="291" width="62" height="30" rx="9" fill="#15321f"/>
<rect x="2046" y="293.5" width="52" height="24" rx="6" fill="#a9a9a9"/>
<rect x="2056.4" y="290.5" width="31.2" height="23.5" fill="#f4f4ee" />
<rect x="2061.4" y="290.5" width="21.2" height="23.5" fill="#9c7466" />
<rect x="2061.4" y="312.0" width="21.2" height="2.0" fill="#6d4f45" />
<rect x="2067.0" y="318.5" width="9.0" height="1.6" fill="#f4f4f4" />
<rect x="1654" y="176" width="14" height="36" rx="4" fill="#a9a9a9"/>
<rect x="1654.0" y="173.0" width="14.0" height="22.3" fill="#f4f4ee" />
<rect x="1655.0" y="177.5" width="11.5" height="13.7" fill="#9c7466" />
<rect x="1666.5" y="174.0" width="1.5" height="21.6" fill="#777" />
<rect x="1572" y="182" width="14" height="36" rx="4" fill="#a9a9a9"/>
<rect x="1572.0" y="179.0" width="14.0" height="22.3" fill="#f4f4ee" />
<rect x="1573.0" y="183.5" width="11.5" height="13.7" fill="#9c7466" />
<rect x="1584.5" y="180.0" width="1.5" height="21.6" fill="#777" />
<rect x="1570" y="322" width="14" height="36" rx="4" fill="#a9a9a9"/>
<rect x="1570.0" y="319.0" width="14.0" height="22.3" fill="#f4f4ee" />
<rect x="1571.0" y="323.5" width="11.5" height="13.7" fill="#9c7466" />
<rect x="1582.5" y="320.0" width="1.5" height="21.6" fill="#777" />
<rect x="1800" y="325" width="14" height="36" rx="4" fill="#a9a9a9"/>
<rect x="1800.0" y="322.0" width="14.0" height="22.3" fill="#f4f4ee" />
<rect x="1801.0" y="326.5" width="11.5" height="13.7" fill="#9c7466" />
<rect x="1812.5" y="323.0" width="1.5" height="21.6" fill="#777" />
<rect x="1599.0" y="373.0" width="58.0" height="18.0" fill="#a9a9a9" />
<rect x="1614.0" y="370.0" width="28.0" height="21.0" fill="#2e2e2e" />
<rect x="1614.0" y="389.0" width="28.0" height="2.5" fill="#1a1a1a" />
<rect x="1633.0" y="370.0" width="7.0" height="19.0" fill="#c9c2b0" />
<rect x="1606.0" y="378.0" width="5.0" height="8.0" fill="#f4f4ee" />
<rect x="1645.0" y="378.0" width="5.0" height="8.0" fill="#f4f4ee" />
<polyline points="1607.0,371.0 1612.0,371.0" fill="none" stroke="#f4f4f4" stroke-width="1.8" stroke-linecap="butt" stroke-linejoin="miter" />
<polyline points="1640.0,371.0 1657.0,371.0 1657.0,396.0 1607.0,398.0" fill="none" stroke="#f4f4f4" stroke-width="1.8" stroke-linecap="butt" stroke-linejoin="miter" />
<rect x="1478.0" y="578.0" width="58.0" height="18.0" fill="#a9a9a9" />
<rect x="1493.0" y="575.0" width="28.0" height="21.0" fill="#2e2e2e" />
<rect x="1493.0" y="594.0" width="28.0" height="2.5" fill="#1a1a1a" />
<rect x="1494.0" y="575.0" width="7.0" height="19.0" fill="#c9c2b0" />
<rect x="1485.0" y="583.0" width="5.0" height="8.0" fill="#f4f4ee" />
<rect x="1524.0" y="583.0" width="5.0" height="8.0" fill="#f4f4ee" />
<polyline points="1529.0,573.0 1475.0,575.0 1475.0,604.0 1529.0,602.0" fill="none" stroke="#f4f4f4" stroke-width="1.92" stroke-linecap="butt" stroke-linejoin="miter" />
<rect x="1477.0" y="614.0" width="58.0" height="18.0" fill="#a9a9a9" />
<rect x="1492.0" y="611.0" width="28.0" height="21.0" fill="#2e2e2e" />
<rect x="1492.0" y="630.0" width="28.0" height="2.5" fill="#1a1a1a" />
<rect x="1511.0" y="611.0" width="7.0" height="19.0" fill="#c9c2b0" />
<rect x="1484.0" y="619.0" width="5.0" height="8.0" fill="#f4f4ee" />
<rect x="1523.0" y="619.0" width="5.0" height="8.0" fill="#f4f4ee" />
<polyline points="1484.0,608.0 1539.0,607.0 1539.0,636.0 1482.0,638.0" fill="none" stroke="#f4f4f4" stroke-width="1.92" stroke-linecap="butt" stroke-linejoin="miter" />
<rect x="1579.0" y="544.0" width="58.0" height="18.0" fill="#a9a9a9" />
<rect x="1594.0" y="541.0" width="28.0" height="21.0" fill="#2e2e2e" />
<rect x="1594.0" y="560.0" width="28.0" height="2.5" fill="#1a1a1a" />
<rect x="1595.0" y="541.0" width="7.0" height="19.0" fill="#c9c2b0" />
<rect x="1586.0" y="549.0" width="5.0" height="8.0" fill="#f4f4ee" />
<rect x="1625.0" y="549.0" width="5.0" height="8.0" fill="#f4f4ee" />
<polyline points="1630.0,540.0 1577.0,542.0 1577.0,571.0 1630.0,568.0" fill="none" stroke="#f4f4f4" stroke-width="1.92" stroke-linecap="butt" stroke-linejoin="miter" />
<rect x="1643.0" y="613.0" width="58.0" height="18.0" fill="#a9a9a9" />
<rect x="1658.0" y="610.0" width="28.0" height="21.0" fill="#2e2e2e" />
<rect x="1658.0" y="629.0" width="28.0" height="2.5" fill="#1a1a1a" />
<rect x="1659.0" y="610.0" width="7.0" height="19.0" fill="#c9c2b0" />
<rect x="1650.0" y="618.0" width="5.0" height="8.0" fill="#f4f4ee" />
<rect x="1689.0" y="618.0" width="5.0" height="8.0" fill="#f4f4ee" />
<polyline points="1695.0,609.0 1639.0,611.0 1639.0,640.0 1695.0,638.0" fill="none" stroke="#f4f4f4" stroke-width="1.92" stroke-linecap="butt" stroke-linejoin="miter" />
<polyline points="1552.0,307.0 1553.0,225.0 1606.0,225.0 1606.0,307.0" fill="none" stroke="#f4f4f4" stroke-width="1.92" stroke-linecap="butt" stroke-linejoin="miter" />
<rect x="1561.0" y="228.0" width="36.0" height="27.0" fill="#a8a8a8" />
<rect x="1559.0" y="278.0" width="38.0" height="29.0" fill="#a8a8a8" />
<ellipse cx="1578.0" cy="267.0" rx="6.5" ry="6.5" fill="#8b0a8b" />
<rect x="1684.5" y="203.0" width="4.0" height="4.0" fill="#b8b8b4" />
<rect x="1684.5" y="206.0" width="4.0" height="9.0" fill="#efefea" />
<rect x="1692.0" y="203.0" width="4.0" height="4.0" fill="#b8b8b4" />
<rect x="1692.0" y="206.0" width="4.0" height="9.0" fill="#efefea" />
<rect x="1699.4" y="203.0" width="4.0" height="4.0" fill="#b8b8b4" />
<rect x="1699.4" y="206.0" width="4.0" height="9.0" fill="#efefea" />
<rect x="1706.8" y="203.0" width="4.0" height="4.0" fill="#b8b8b4" />
<rect x="1706.8" y="206.0" width="4.0" height="9.0" fill="#efefea" />
<rect x="1714.3" y="203.0" width="4.0" height="4.0" fill="#b8b8b4" />
<rect x="1714.3" y="206.0" width="4.0" height="9.0" fill="#efefea" />
<rect x="1721.8" y="203.0" width="4.0" height="4.0" fill="#b8b8b4" />
<rect x="1721.8" y="206.0" width="4.0" height="9.0" fill="#efefea" />
<rect x="1729.2" y="203.0" width="4.0" height="4.0" fill="#b8b8b4" />
<rect x="1729.2" y="206.0" width="4.0" height="9.0" fill="#efefea" />
<rect x="1736.7" y="203.0" width="4.0" height="4.0" fill="#b8b8b4" />
<rect x="1736.7" y="206.0" width="4.0" height="9.0" fill="#efefea" />
<rect x="1744.1" y="203.0" width="4.0" height="4.0" fill="#b8b8b4" />
<rect x="1744.1" y="206.0" width="4.0" height="9.0" fill="#efefea" />
<rect x="1751.5" y="203.0" width="4.0" height="4.0" fill="#b8b8b4" />
<rect x="1751.5" y="206.0" width="4.0" height="9.0" fill="#efefea" />
<rect x="1759.0" y="203.0" width="4.0" height="4.0" fill="#b8b8b4" />
<rect x="1759.0" y="206.0" width="4.0" height="9.0" fill="#efefea" />
<rect x="1766.5" y="203.0" width="4.0" height="4.0" fill="#b8b8b4" />
<rect x="1766.5" y="206.0" width="4.0" height="9.0" fill="#efefea" />
<rect x="1686.1" y="310.0" width="4.6" height="25.0" fill="#efefea" />
<rect x="1686.1" y="322.0" width="4.6" height="4.0" fill="#cfcfca" />
<rect x="1686.1" y="334.0" width="4.6" height="5.0" fill="#b4b4b0" />
<rect x="1693.9" y="310.0" width="4.6" height="25.0" fill="#efefea" />
<rect x="1693.9" y="322.0" width="4.6" height="4.0" fill="#cfcfca" />
<rect x="1693.9" y="334.0" width="4.6" height="5.0" fill="#b4b4b0" />
<rect x="1701.7" y="310.0" width="4.6" height="25.0" fill="#efefea" />
<rect x="1701.7" y="322.0" width="4.6" height="4.0" fill="#cfcfca" />
<rect x="1701.7" y="334.0" width="4.6" height="5.0" fill="#b4b4b0" />
<rect x="1709.5" y="310.0" width="4.6" height="25.0" fill="#efefea" />
<rect x="1709.5" y="322.0" width="4.6" height="4.0" fill="#cfcfca" />
<rect x="1709.5" y="334.0" width="4.6" height="5.0" fill="#b4b4b0" />
<rect x="1717.3" y="310.0" width="4.6" height="25.0" fill="#efefea" />
<rect x="1717.3" y="322.0" width="4.6" height="4.0" fill="#cfcfca" />
<rect x="1717.3" y="334.0" width="4.6" height="5.0" fill="#b4b4b0" />
<rect x="1725.1" y="310.0" width="4.6" height="25.0" fill="#efefea" />
<rect x="1725.1" y="322.0" width="4.6" height="4.0" fill="#cfcfca" />
<rect x="1725.1" y="334.0" width="4.6" height="5.0" fill="#b4b4b0" />
<rect x="1732.9" y="310.0" width="4.6" height="25.0" fill="#efefea" />
<rect x="1732.9" y="322.0" width="4.6" height="4.0" fill="#cfcfca" />
<rect x="1732.9" y="334.0" width="4.6" height="5.0" fill="#b4b4b0" />
<rect x="1740.7" y="310.0" width="4.6" height="25.0" fill="#efefea" />
<rect x="1740.7" y="322.0" width="4.6" height="4.0" fill="#cfcfca" />
<rect x="1740.7" y="334.0" width="4.6" height="5.0" fill="#b4b4b0" />
<rect x="1748.5" y="310.0" width="4.6" height="25.0" fill="#efefea" />
<rect x="1748.5" y="322.0" width="4.6" height="4.0" fill="#cfcfca" />
<rect x="1748.5" y="334.0" width="4.6" height="5.0" fill="#b4b4b0" />
<rect x="1756.3" y="310.0" width="4.6" height="25.0" fill="#efefea" />
<rect x="1756.3" y="322.0" width="4.6" height="4.0" fill="#cfcfca" />
<rect x="1756.3" y="334.0" width="4.6" height="5.0" fill="#b4b4b0" />
<rect x="1764.1" y="310.0" width="4.6" height="25.0" fill="#efefea" />
<rect x="1764.1" y="322.0" width="4.6" height="4.0" fill="#cfcfca" />
<rect x="1764.1" y="334.0" width="4.6" height="5.0" fill="#b4b4b0" />
<rect x="1771.9" y="310.0" width="4.6" height="25.0" fill="#efefea" />
<rect x="1771.9" y="322.0" width="4.6" height="4.0" fill="#cfcfca" />
<rect x="1771.9" y="334.0" width="4.6" height="5.0" fill="#b4b4b0" />
<rect x="1654.0" y="228.0" width="18.0" height="3.8" fill="#b4b4b0" />
<rect x="1661.0" y="228.0" width="17.0" height="3.8" fill="#efefea" />
<rect x="1654.0" y="235.2" width="18.0" height="3.8" fill="#b4b4b0" />
<rect x="1661.0" y="235.2" width="17.0" height="3.8" fill="#efefea" />
<rect x="1654.0" y="242.5" width="18.0" height="3.8" fill="#b4b4b0" />
<rect x="1661.0" y="242.5" width="17.0" height="3.8" fill="#efefea" />
<rect x="1654.0" y="249.8" width="18.0" height="3.8" fill="#b4b4b0" />
<rect x="1661.0" y="249.8" width="17.0" height="3.8" fill="#efefea" />
<rect x="1654.0" y="257.0" width="18.0" height="3.8" fill="#b4b4b0" />
<rect x="1661.0" y="257.0" width="17.0" height="3.8" fill="#efefea" />
<rect x="1654.0" y="264.2" width="18.0" height="3.8" fill="#b4b4b0" />
<rect x="1661.0" y="264.2" width="17.0" height="3.8" fill="#efefea" />
<rect x="1654.0" y="271.5" width="18.0" height="3.8" fill="#b4b4b0" />
<rect x="1661.0" y="271.5" width="17.0" height="3.8" fill="#efefea" />
<rect x="1654.0" y="278.8" width="18.0" height="3.8" fill="#b4b4b0" />
<rect x="1661.0" y="278.8" width="17.0" height="3.8" fill="#efefea" />
<rect x="1654.0" y="286.0" width="18.0" height="3.8" fill="#b4b4b0" />
<rect x="1661.0" y="286.0" width="17.0" height="3.8" fill="#efefea" />
<rect x="1654.0" y="293.2" width="18.0" height="3.8" fill="#b4b4b0" />
<rect x="1661.0" y="293.2" width="17.0" height="3.8" fill="#efefea" />
<rect x="1654.0" y="300.5" width="18.0" height="3.8" fill="#b4b4b0" />
<rect x="1661.0" y="300.5" width="17.0" height="3.8" fill="#efefea" />
<rect x="1654.0" y="307.8" width="18.0" height="3.8" fill="#b4b4b0" />
<rect x="1661.0" y="307.8" width="17.0" height="3.8" fill="#efefea" />
<rect x="1787.0" y="228.0" width="18.0" height="3.8" fill="#b4b4b0" />
<rect x="1780.0" y="228.0" width="17.0" height="3.8" fill="#efefea" />
<rect x="1787.0" y="234.9" width="18.0" height="3.8" fill="#b4b4b0" />
<rect x="1780.0" y="234.9" width="17.0" height="3.8" fill="#efefea" />
<rect x="1787.0" y="241.8" width="18.0" height="3.8" fill="#b4b4b0" />
<rect x="1780.0" y="241.8" width="17.0" height="3.8" fill="#efefea" />
<rect x="1787.0" y="248.7" width="18.0" height="3.8" fill="#b4b4b0" />
<rect x="1780.0" y="248.7" width="17.0" height="3.8" fill="#efefea" />
<rect x="1787.0" y="255.6" width="18.0" height="3.8" fill="#b4b4b0" />
<rect x="1780.0" y="255.6" width="17.0" height="3.8" fill="#efefea" />
<rect x="1787.0" y="262.5" width="18.0" height="3.8" fill="#b4b4b0" />
<rect x="1780.0" y="262.5" width="17.0" height="3.8" fill="#efefea" />
<rect x="1787.0" y="269.4" width="18.0" height="3.8" fill="#b4b4b0" />
<rect x="1780.0" y="269.4" width="17.0" height="3.8" fill="#efefea" />
<rect x="1787.0" y="276.3" width="18.0" height="3.8" fill="#b4b4b0" />
<rect x="1780.0" y="276.3" width="17.0" height="3.8" fill="#efefea" />
<rect x="1787.0" y="283.2" width="18.0" height="3.8" fill="#b4b4b0" />
<rect x="1780.0" y="283.2" width="17.0" height="3.8" fill="#efefea" />
<rect x="1787.0" y="290.1" width="18.0" height="3.8" fill="#b4b4b0" />
<rect x="1780.0" y="290.1" width="17.0" height="3.8" fill="#efefea" />
<rect x="1787.0" y="297.0" width="18.0" height="3.8" fill="#b4b4b0" />
<rect x="1780.0" y="297.0" width="17.0" height="3.8" fill="#efefea" />
<rect x="1787.0" y="303.9" width="18.0" height="3.8" fill="#b4b4b0" />
<rect x="1780.0" y="303.9" width="17.0" height="3.8" fill="#efefea" />
<polygon points="1677.0,214.5 1778.5,212.8 1784.5,308.5 1678.0,312.5" fill="#3a3838" />
<polygon points="1678.0,312.5 1784.5,308.5 1785.0,311.0 1679.0,315.0" fill="#1d1d1d" />
<ellipse cx="1688.0" cy="224.0" rx="3.5" ry="3.2" fill="#d8d4c4" />
<polyline points="1674.0,316.0 1674.0,321.0 1682.0,321.0" fill="none" stroke="#f4f4f4" stroke-width="1.68" stroke-linecap="butt" stroke-linejoin="miter" />
<polyline points="1779.0,317.0 1787.0,317.0 1787.0,311.0" fill="none" stroke="#f4f4f4" stroke-width="1.68" stroke-linecap="butt" stroke-linejoin="miter" />
<polyline points="1780.0,219.0 1783.0,219.0 1783.0,224.0" fill="none" stroke="#f4f4f4" stroke-width="1.68" stroke-linecap="butt" stroke-linejoin="miter" />
<polyline points="1680.0,95.0 1680.0,123.0 1773.0,121.0" fill="none" stroke="#f4f4f4" stroke-width="1.92" stroke-linecap="butt" stroke-linejoin="miter" />
<polyline points="1794.0,92.0 1794.0,108.0" fill="none" stroke="#f4f4f4" stroke-width="1.92" stroke-linecap="butt" stroke-linejoin="miter" />
<polygon points="1681.0,92.0 1793.0,90.0 1793.0,116.0 1682.0,121.0" fill="#2a2a2a" />
<polygon points="1681.0,92.0 1793.0,90.0 1793.0,98.0 1681.0,100.0" fill="#3a3a3a" />
<rect x="1686.0" y="75.0" width="6.0" height="29.0" fill="#b39643" />
<rect x="1686.0" y="73.0" width="6.0" height="5.0" fill="#f0dc9a" />
<rect x="1690.5" y="78.0" width="1.5" height="26.0" fill="#8a7432" />
<rect x="1705.0" y="75.0" width="6.0" height="29.0" fill="#b39643" />
<rect x="1705.0" y="73.0" width="6.0" height="5.0" fill="#f0dc9a" />
<rect x="1709.5" y="78.0" width="1.5" height="26.0" fill="#8a7432" />
<rect x="1724.0" y="75.0" width="6.0" height="29.0" fill="#b39643" />
<rect x="1724.0" y="73.0" width="6.0" height="5.0" fill="#f0dc9a" />
<rect x="1728.5" y="78.0" width="1.5" height="26.0" fill="#8a7432" />
<rect x="1744.0" y="75.0" width="6.0" height="29.0" fill="#b39643" />
<rect x="1744.0" y="73.0" width="6.0" height="5.0" fill="#f0dc9a" />
<rect x="1748.5" y="78.0" width="1.5" height="26.0" fill="#8a7432" />
<rect x="1763.0" y="75.0" width="6.0" height="29.0" fill="#b39643" />
<rect x="1763.0" y="73.0" width="6.0" height="5.0" fill="#f0dc9a" />
<rect x="1767.5" y="78.0" width="1.5" height="26.0" fill="#8a7432" />
<rect x="1782.0" y="75.0" width="6.0" height="29.0" fill="#b39643" />
<rect x="1782.0" y="73.0" width="6.0" height="5.0" fill="#f0dc9a" />
<rect x="1786.5" y="78.0" width="1.5" height="26.0" fill="#8a7432" />
<rect x="1698.5" y="100.0" width="1.0" height="19.0" fill="#1a1a1a" />
<rect x="1717.5" y="100.0" width="1.0" height="19.0" fill="#1a1a1a" />
<rect x="1736.5" y="100.0" width="1.0" height="19.0" fill="#1a1a1a" />
<rect x="1756.5" y="100.0" width="1.0" height="19.0" fill="#1a1a1a" />
<rect x="1775.5" y="100.0" width="1.0" height="19.0" fill="#1a1a1a" />
<text x="0" y="0" font-size="20.5" fill="#f4f4f4" font-weight="normal" text-anchor="start" textLength="28" lengthAdjust="spacingAndGlyphs" transform="translate(1919 206) rotate(-1.5) skewX(0)">U3</text>
<rect x="1902.0" y="217.5" width="24.0" height="9.0" fill="#a9a9a9" />
<rect x="1952.0" y="217.5" width="17.0" height="9.0" fill="#a9a9a9" />
<rect x="1916.0" y="217.0" width="10.0" height="6.0" fill="#f4f4ee" />
<rect x="1952.0" y="217.0" width="7.0" height="6.0" fill="#f4f4ee" />
<rect x="1902.0" y="229.0" width="24.0" height="9.0" fill="#a9a9a9" />
<rect x="1952.0" y="229.0" width="17.0" height="9.0" fill="#a9a9a9" />
<rect x="1916.0" y="228.5" width="10.0" height="6.0" fill="#f4f4ee" />
<rect x="1952.0" y="228.5" width="7.0" height="6.0" fill="#f4f4ee" />
<rect x="1902.0" y="240.5" width="24.0" height="9.0" fill="#a9a9a9" />
<rect x="1952.0" y="240.5" width="17.0" height="9.0" fill="#a9a9a9" />
<rect x="1916.0" y="240.0" width="10.0" height="6.0" fill="#f4f4ee" />
<rect x="1952.0" y="240.0" width="7.0" height="6.0" fill="#f4f4ee" />
<polygon points="1925.0,203.0 1947.0,203.0 1952.0,243.0 1927.0,245.0" fill="#2c2c2c" />
<polygon points="1927.0,245.0 1952.0,243.0 1952.0,248.0 1928.0,250.0" fill="#161616" />
<polyline points="1923.0,254.0 1968.0,252.0" fill="none" stroke="#f4f4f4" stroke-width="1.8" stroke-linecap="butt" stroke-linejoin="miter" />
<rect x="1910.0" y="264.0" width="7.0" height="15.0" fill="#8f8f8f" />
<rect x="1904.0" y="297.0" width="7.0" height="26.0" fill="#9a9a9a" />
<rect x="1924.0" y="297.0" width="8.0" height="26.0" fill="#9a9a9a" />
<rect x="1904.0" y="297.0" width="7.0" height="6.0" fill="#f4f4ee" />
<rect x="1924.0" y="297.0" width="8.0" height="6.0" fill="#f4f4ee" />
<polygon points="1903.0,278.0 1933.0,278.0 1933.0,295.0 1903.0,296.0" fill="#2e2e2e" />
<rect x="1903.0" y="295.0" width="30.0" height="3.0" fill="#161616" />
<polyline points="1901.0,283.0 1897.0,283.0 1897.0,323.0" fill="none" stroke="#f4f4f4" stroke-width="1.8" stroke-linecap="butt" stroke-linejoin="miter" />
<polyline points="1933.0,282.0 1934.0,300.0" fill="none" stroke="#f4f4f4" stroke-width="1.8" stroke-linecap="butt" stroke-linejoin="miter" />
<polyline points="1985.0,330.0 1979.0,330.0 1979.0,346.0" fill="none" stroke="#f4f4f4" stroke-width="1.92" stroke-linecap="butt" stroke-linejoin="miter" />
<polyline points="1987.0,413.0 1990.0,429.0 2088.0,428.0" fill="none" stroke="#f4f4f4" stroke-width="1.92" stroke-linecap="butt" stroke-linejoin="miter" />
<rect x="1947.0" y="353.0" width="37.0" height="57.0" fill="#a6a6a6" />
<rect x="1958.0" y="359.0" width="34.0" height="37.0" fill="#f2f2ec" />
<rect x="1958.0" y="359.0" width="9.0" height="37.0" fill="#d0d0c8" />
<rect x="1975.0" y="359.0" width="5.0" height="37.0" fill="#d8d8d0" />
<rect x="2043.0" y="333.0" width="32.0" height="22.0" fill="#a6a6a6" />
<rect x="2043.0" y="334.0" width="16.0" height="13.0" fill="#f4f4ee" />
<rect x="2056.0" y="336.0" width="12.0" height="12.0" fill="#f8f8f2" />
<rect x="2043.0" y="346.0" width="14.0" height="3.0" fill="#888" />
<rect x="2048.0" y="366.0" width="32.0" height="22.0" fill="#a6a6a6" />
<rect x="2048.0" y="367.0" width="16.0" height="13.0" fill="#f4f4ee" />
<rect x="2061.0" y="369.0" width="12.0" height="12.0" fill="#f8f8f2" />
<rect x="2048.0" y="379.0" width="14.0" height="3.0" fill="#888" />
<rect x="2053.0" y="401.0" width="32.0" height="22.0" fill="#a6a6a6" />
<rect x="2053.0" y="402.0" width="16.0" height="13.0" fill="#f4f4ee" />
<rect x="2066.0" y="404.0" width="12.0" height="12.0" fill="#f8f8f2" />
<rect x="2053.0" y="414.0" width="14.0" height="3.0" fill="#888" />
<polygon points="1985.0,324.0 2043.0,323.0 2053.0,419.0 1995.0,421.0" fill="#343434" />
<polygon points="1995.0,421.0 2053.0,419.0 2053.0,425.0 1996.0,427.0" fill="#1c1c1c" />
<polyline points="1970.0,442.0 1950.0,443.0 1950.0,497.0" fill="none" stroke="#f4f4f4" stroke-width="1.92" stroke-linecap="butt" stroke-linejoin="miter" />
<polyline points="1954.0,497.0 2070.0,492.0" fill="none" stroke="#f4f4f4" stroke-width="1.92" stroke-linecap="butt" stroke-linejoin="miter" />
<rect x="1956.0" y="451.0" width="18.0" height="35.0" fill="#a6a6a6" />
<rect x="1968.0" y="455.0" width="6.0" height="25.0" fill="#e6e6e0" />
<polygon points="1977.0,483.0 2078.0,470.0 2079.0,479.0 2067.0,490.0 1976.0,492.0" fill="#9c8214" />
<polygon points="1977.0,483.0 2078.0,470.0 2078.0,476.0 1977.0,489.0" fill="#c9a818" />
<polygon points="1970.0,446.0 1977.0,434.0 1988.0,432.0 1992.0,480.0 1977.0,484.0" fill="#dcbc1c" />
<polygon points="1988.0,432.0 2072.0,429.0 2078.0,470.0 1992.0,480.0" fill="#ffe836" />
<polygon points="1990.0,433.0 2004.0,432.5 2004.0,478.0 1993.0,479.5" fill="#ff8e30" />
<polyline points="1899.0,449.0 1893.0,449.0 1893.0,481.0" fill="none" stroke="#f4f4f4" stroke-width="1.92" stroke-linecap="butt" stroke-linejoin="miter" />
<polyline points="1895.0,492.0 1940.0,490.0" fill="none" stroke="#f4f4f4" stroke-width="1.92" stroke-linecap="butt" stroke-linejoin="miter" />
<polygon points="1895.0,441.0 1942.0,438.0 1945.0,473.0 1937.0,488.0 1897.0,489.0" fill="#33322f" />
<polygon points="1897.0,478.0 1937.0,477.0 1937.0,488.0 1897.0,489.0" fill="#212121" />
<polyline points="1923.0,463.0 1939.0,430.0" fill="none" stroke="#7d6a32" stroke-width="12" stroke-linecap="butt" stroke-linejoin="round" />
<polyline points="1922.0,461.5 1938.0,428.5" fill="none" stroke="#917c3c" stroke-width="5" stroke-linecap="butt" stroke-linejoin="round" />
<rect x="1933.5" y="424.0" width="11.0" height="11.0" fill="#ecd793" />
<polyline points="2122.0,399.0 2116.0,399.0 2116.0,421.0" fill="none" stroke="#f4f4f4" stroke-width="1.92" stroke-linecap="butt" stroke-linejoin="miter" />
<polyline points="2122.0,441.0 2166.0,438.0" fill="none" stroke="#f4f4f4" stroke-width="1.92" stroke-linecap="butt" stroke-linejoin="miter" />
<polygon points="2122.0,394.0 2167.0,388.0 2178.0,424.0 2167.0,438.0 2125.0,438.0" fill="#33322f" />
<polygon points="2124.0,426.0 2167.0,425.0 2167.0,438.0 2125.0,438.0" fill="#212121" />
<polyline points="2157.0,408.0 2193.0,372.0" fill="none" stroke="#7d6a32" stroke-width="11" stroke-linecap="butt" stroke-linejoin="round" />
<polyline points="2156.0,406.5 2192.0,370.5" fill="none" stroke="#917c3c" stroke-width="4" stroke-linecap="butt" stroke-linejoin="round" />
<rect x="2187.5" y="366.0" width="11.0" height="11.0" fill="#ecd793" />
<polyline points="2135.0,478.0 2129.0,478.0 2129.0,496.0" fill="none" stroke="#f4f4f4" stroke-width="1.92" stroke-linecap="butt" stroke-linejoin="miter" />
<polyline points="2135.0,519.0 2180.0,517.0" fill="none" stroke="#f4f4f4" stroke-width="1.92" stroke-linecap="butt" stroke-linejoin="miter" />
<polygon points="2133.0,478.0 2180.0,469.0 2193.0,501.0 2182.0,516.0 2138.0,516.0" fill="#33322f" />
<polygon points="2137.0,503.0 2182.0,502.0 2182.0,516.0 2138.0,516.0" fill="#212121" />
<polyline points="2170.0,489.0 2211.0,461.0" fill="none" stroke="#7d6a32" stroke-width="11" stroke-linecap="butt" stroke-linejoin="round" />
<polyline points="2169.0,487.5 2210.0,459.5" fill="none" stroke="#917c3c" stroke-width="4" stroke-linecap="butt" stroke-linejoin="round" />
<rect x="2205.5" y="455.0" width="11.0" height="11.0" fill="#ecd793" />
<text x="0" y="0" font-size="20.5" fill="#f4f4f4" font-weight="normal" text-anchor="start" textLength="42" lengthAdjust="spacingAndGlyphs" transform="translate(1800 113) rotate(-1.5) skewX(0)">SWD</text>
<text x="0" y="0" font-size="20.5" fill="#f4f4f4" font-weight="normal" text-anchor="start" textLength="25" lengthAdjust="spacingAndGlyphs" transform="translate(1633 137) rotate(-1.5) skewX(0)">R7</text>
<text x="0" y="0" font-size="20.5" fill="#f4f4f4" font-weight="normal" text-anchor="start" textLength="26" lengthAdjust="spacingAndGlyphs" transform="translate(1702 144) rotate(-1.5) skewX(0)">R1</text>
<text x="0" y="0" font-size="20.5" fill="#f4f4f4" font-weight="normal" text-anchor="start" textLength="26" lengthAdjust="spacingAndGlyphs" transform="translate(1622 198) rotate(-1.5) skewX(0)">C8</text>
<text x="0" y="0" font-size="20.5" fill="#f4f4f4" font-weight="normal" text-anchor="start" textLength="27" lengthAdjust="spacingAndGlyphs" transform="translate(1540 207) rotate(-1.5) skewX(0)">C9</text>
<text x="0" y="0" font-size="20.5" fill="#f4f4f4" font-weight="normal" text-anchor="start" textLength="27" lengthAdjust="spacingAndGlyphs" transform="translate(1713 197) rotate(-1.5) skewX(0)">U2</text>
<text x="0" y="0" font-size="20.5" fill="#f4f4f4" font-weight="normal" text-anchor="start" textLength="27" lengthAdjust="spacingAndGlyphs" transform="translate(1803 193) rotate(-1.5) skewX(0)">C5</text>
<text x="0" y="0" font-size="20.5" fill="#f4f4f4" font-weight="normal" text-anchor="start" textLength="26" lengthAdjust="spacingAndGlyphs" transform="translate(1989 208) rotate(-1.5) skewX(0)">R8</text>
<text x="0" y="0" font-size="20.5" fill="#f4f4f4" font-weight="normal" text-anchor="start" textLength="26" lengthAdjust="spacingAndGlyphs" transform="translate(1997 272) rotate(-1.5) skewX(0)">R9</text>
<text x="0" y="0" font-size="20.5" fill="#f4f4f4" font-weight="normal" text-anchor="start" textLength="26" lengthAdjust="spacingAndGlyphs" transform="translate(2012 314) rotate(-1.5) skewX(0)">C2</text>
<text x="0" y="0" font-size="20.5" fill="#f4f4f4" font-weight="normal" text-anchor="start" textLength="41" lengthAdjust="spacingAndGlyphs" transform="translate(1846 304) rotate(-1.5) skewX(0)">R10</text>
<text x="0" y="0" font-size="20.5" fill="#f4f4f4" font-weight="normal" text-anchor="start" textLength="27" lengthAdjust="spacingAndGlyphs" transform="translate(1869 325) rotate(-1.5) skewX(0)">Q1</text>
<text x="0" y="0" font-size="20.5" fill="#f4f4f4" font-weight="normal" text-anchor="start" textLength="29" lengthAdjust="spacingAndGlyphs" transform="translate(1818 349) rotate(-1.5) skewX(0)">C6</text>
<text x="0" y="0" font-size="20.5" fill="#f4f4f4" font-weight="normal" text-anchor="start" textLength="28" lengthAdjust="spacingAndGlyphs" transform="translate(1897 368) rotate(-1.5) skewX(0)">C3</text>
<text x="0" y="0" font-size="20.5" fill="#f4f4f4" font-weight="normal" text-anchor="start" textLength="25" lengthAdjust="spacingAndGlyphs" transform="translate(1917 423) rotate(-1.5) skewX(0)">U1</text>
<text x="0" y="0" font-size="20.5" fill="#f4f4f4" font-weight="normal" text-anchor="start" textLength="41" lengthAdjust="spacingAndGlyphs" transform="translate(1522 344) rotate(-1.5) skewX(0)">C10</text>
<text x="0" y="0" font-size="20.5" fill="#f4f4f4" font-weight="normal" text-anchor="start" textLength="28" lengthAdjust="spacingAndGlyphs" transform="translate(1619 363) rotate(-1.5) skewX(0)">C7</text>
<text x="0" y="0" font-size="20.5" fill="#f4f4f4" font-weight="normal" text-anchor="start" textLength="28" lengthAdjust="spacingAndGlyphs" transform="translate(1551 415) rotate(-1.5) skewX(0)">R2</text>
<text x="0" y="0" font-size="20.5" fill="#f4f4f4" font-weight="normal" text-anchor="start" textLength="29" lengthAdjust="spacingAndGlyphs" transform="translate(1613 417) rotate(-1.5) skewX(0)">D3</text>
<text x="0" y="0" font-size="20.5" fill="#f4f4f4" font-weight="normal" text-anchor="start" textLength="28" lengthAdjust="spacingAndGlyphs" transform="translate(1608 437) rotate(-1.5) skewX(0)">R3</text>
<text x="0" y="0" font-size="20.5" fill="#f4f4f4" font-weight="normal" text-anchor="start" textLength="27" lengthAdjust="spacingAndGlyphs" transform="translate(1681 382) rotate(-1.5) skewX(0)">R6</text>
<text x="0" y="0" font-size="20.5" fill="#f4f4f4" font-weight="normal" text-anchor="start" textLength="29" lengthAdjust="spacingAndGlyphs" transform="translate(1707 431) rotate(-1.5) skewX(0)">R5</text>
<text x="0" y="0" font-size="22" fill="#f4f4f4" font-weight="normal" text-anchor="start" textLength="30" lengthAdjust="spacingAndGlyphs" transform="translate(1595 532) rotate(-1.5) skewX(0)">D4</text>
<text x="0" y="0" font-size="22" fill="#f4f4f4" font-weight="normal" text-anchor="start" textLength="27" lengthAdjust="spacingAndGlyphs" transform="translate(1494 564) rotate(-1.5) skewX(0)">D1</text>
<text x="0" y="0" font-size="22" fill="#f4f4f4" font-weight="normal" text-anchor="start" textLength="29.5" lengthAdjust="spacingAndGlyphs" transform="translate(1490 663) rotate(-1.5) skewX(0)">D2</text>
<text x="0" y="0" font-size="22" fill="#f4f4f4" font-weight="normal" text-anchor="start" textLength="29" lengthAdjust="spacingAndGlyphs" transform="translate(1658 599) rotate(-1.5) skewX(0)">D5</text>
<text x="0" y="0" font-size="23" fill="#f4f4f4" font-weight="normal" text-anchor="start" textLength="43" lengthAdjust="spacingAndGlyphs" transform="translate(1898 516) rotate(-1.5) skewX(0)">3v3</text>
<text x="0" y="0" font-size="22" fill="#f4f4f4" font-weight="normal" text-anchor="start" textLength="29" lengthAdjust="spacingAndGlyphs" transform="translate(2005 519) rotate(-1.5) skewX(0)">C4</text>
<text x="0" y="0" font-size="23" fill="#f4f4f4" font-weight="normal" text-anchor="start" textLength="24" lengthAdjust="spacingAndGlyphs" transform="translate(2134 464) rotate(-1.5) skewX(0)">5v</text>
<text x="0" y="0" font-size="23.5" fill="#f4f4f4" font-weight="normal" text-anchor="start" textLength="47" lengthAdjust="spacingAndGlyphs" transform="translate(2137 547) rotate(-1.5) skewX(0)">GND</text>
<text x="0" y="0" font-size="21" fill="#f4f4f4" font-weight="normal" text-anchor="start" textLength="27" lengthAdjust="spacingAndGlyphs" transform="translate(1630 279) rotate(-88) skewX(0)">Y1</text>
</g>
</svg>
</body></html>
